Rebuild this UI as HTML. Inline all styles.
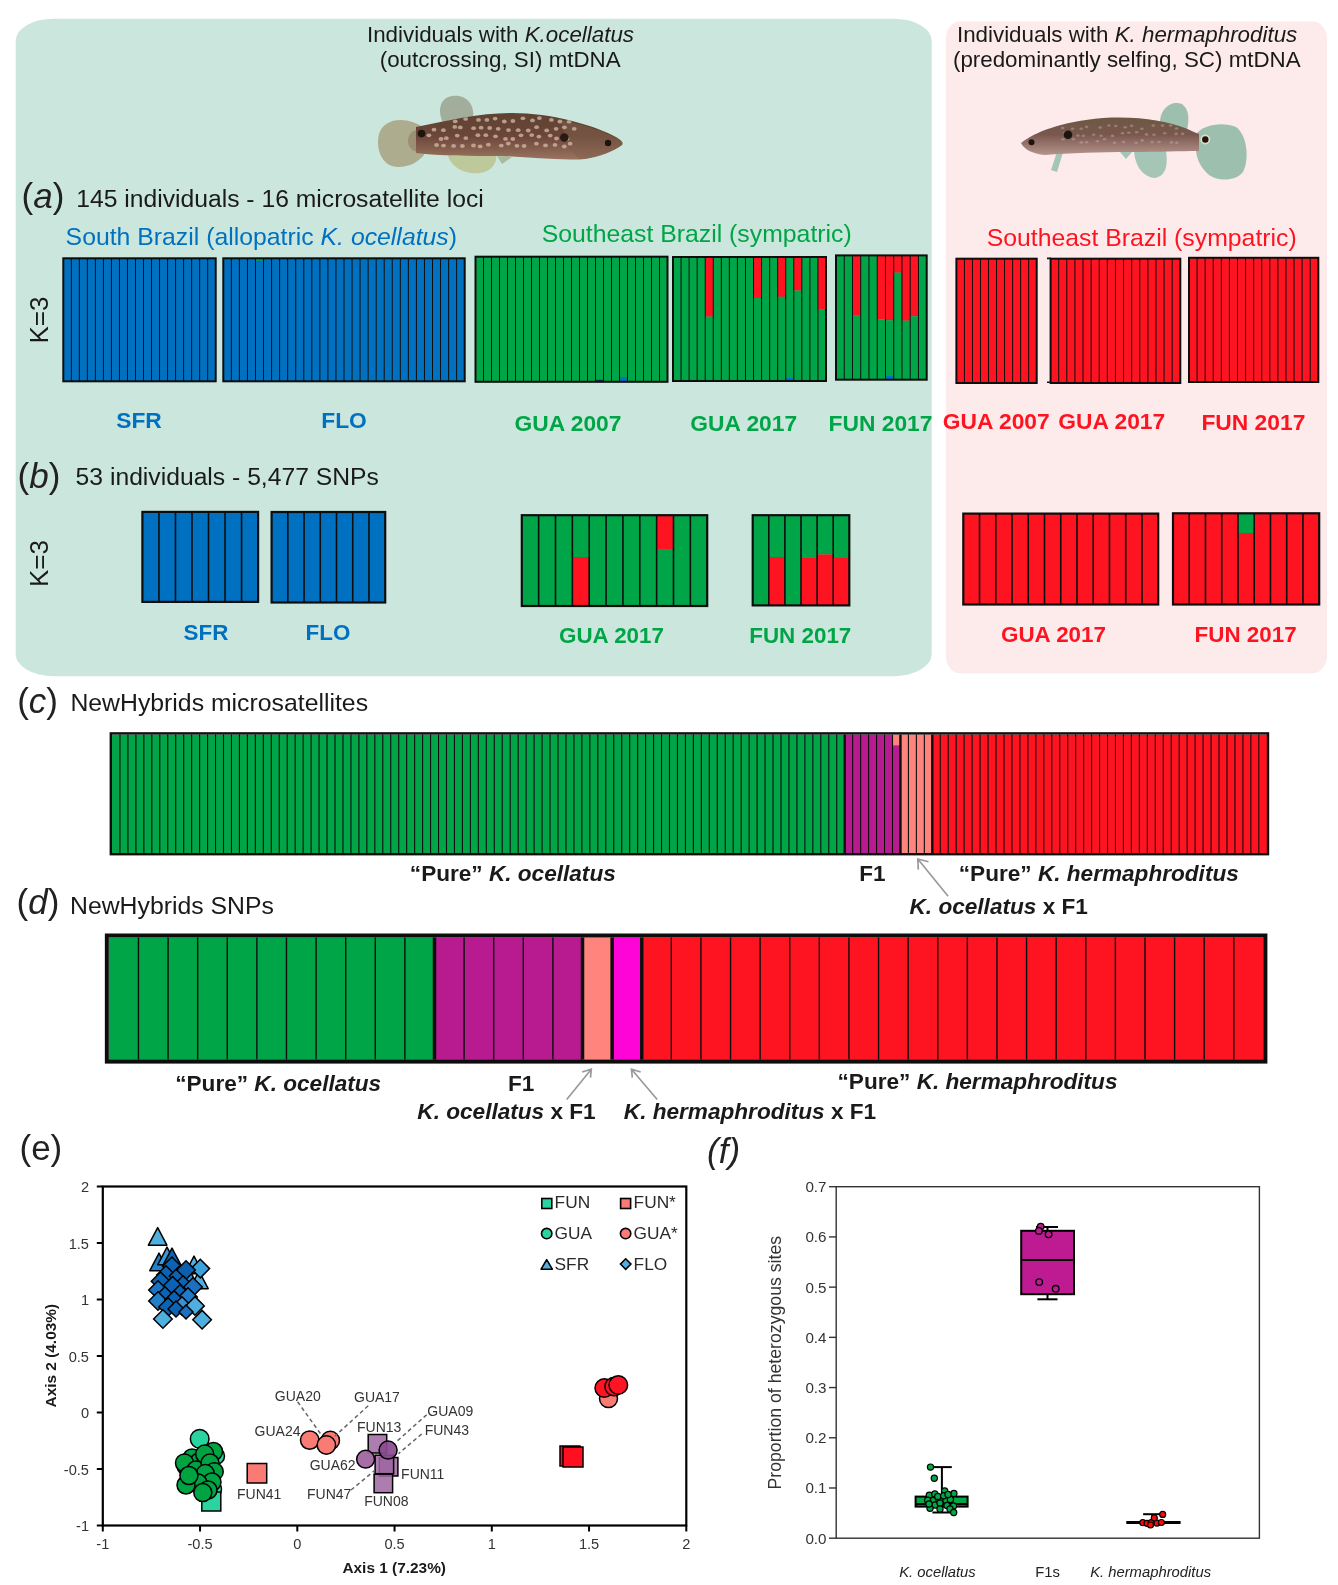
<!DOCTYPE html><html><head><meta charset="utf-8"><style>html,body{margin:0;padding:0;background:#fff}body{width:1338px;height:1585px;overflow:hidden}svg{display:block;will-change:transform}text{font-family:"Liberation Sans",sans-serif}</style></head><body>
<svg width="1338" height="1585" viewBox="0 0 1338 1585">
<rect x="15.7" y="18.7" width="916" height="657.5" rx="38" ry="22" fill="#cbe6dc"/>
<rect x="945.8" y="21.4" width="381.2" height="651.8" rx="14" ry="18" fill="#fdeaea"/>
<text x="500.5" y="42.3" font-size="22.35" fill="#1a1a1a" text-anchor="middle">Individuals with <tspan font-style="italic">K.ocellatus</tspan></text>
<text x="500.2" y="67.1" font-size="22.35" fill="#1a1a1a" text-anchor="middle">(outcrossing, SI) mtDNA</text>
<text x="1127.1" y="41.5" font-size="22.35" fill="#1a1a1a" text-anchor="middle">Individuals with <tspan font-style="italic">K. hermaphroditus</tspan></text>
<text x="1126.8" y="66.8" font-size="22.35" fill="#1a1a1a" text-anchor="middle">(predominantly selfing, SC) mtDNA</text>
<text x="21.5" y="207.5" font-size="35" fill="#222"><tspan>(</tspan><tspan font-style="italic">a</tspan><tspan>)</tspan></text>
<text x="76.2" y="206.8" font-size="24.7" fill="#1a1a1a">145 individuals - 16 microsatellite loci</text>
<text x="65.6" y="245.2" font-size="24.8" fill="#0071c1">South Brazil (allopatric <tspan font-style="italic">K. ocellatus</tspan>)</text>
<text x="696.7" y="242.2" font-size="24.8" fill="#00a547" text-anchor="middle">Southeast Brazil (sympatric)</text>
<text x="1141.7" y="246" font-size="24.8" fill="#fe1421" text-anchor="middle">Southeast Brazil (sympatric)</text>
<text transform="translate(47.6,320) rotate(-90)" font-size="26" fill="#1a1a1a" text-anchor="middle">K=3</text>
<text transform="translate(47.6,563.5) rotate(-90)" font-size="26" fill="#1a1a1a" text-anchor="middle">K=3</text>
<rect x="63.30" y="258.30" width="8.32" height="123.30" fill="#0071c1"/>
<rect x="71.32" y="258.30" width="8.32" height="123.30" fill="#0071c1"/>
<rect x="79.34" y="258.30" width="8.32" height="123.30" fill="#0071c1"/>
<rect x="87.36" y="258.30" width="8.32" height="123.30" fill="#0071c1"/>
<rect x="95.38" y="258.30" width="8.32" height="123.30" fill="#0071c1"/>
<rect x="103.41" y="258.30" width="8.32" height="123.30" fill="#0071c1"/>
<rect x="111.43" y="258.30" width="8.32" height="123.30" fill="#0071c1"/>
<rect x="119.45" y="258.30" width="8.32" height="123.30" fill="#0071c1"/>
<rect x="127.47" y="258.30" width="8.32" height="123.30" fill="#0071c1"/>
<rect x="135.49" y="258.30" width="8.32" height="123.30" fill="#0071c1"/>
<rect x="143.51" y="258.30" width="8.32" height="123.30" fill="#0071c1"/>
<rect x="151.53" y="258.30" width="8.32" height="123.30" fill="#0071c1"/>
<rect x="159.55" y="258.30" width="8.32" height="123.30" fill="#0071c1"/>
<rect x="167.57" y="258.30" width="8.32" height="123.30" fill="#0071c1"/>
<rect x="175.59" y="258.30" width="8.32" height="123.30" fill="#0071c1"/>
<rect x="183.62" y="258.30" width="8.32" height="123.30" fill="#0071c1"/>
<rect x="191.64" y="258.30" width="8.32" height="123.30" fill="#0071c1"/>
<rect x="199.66" y="258.30" width="8.32" height="123.30" fill="#0071c1"/>
<rect x="207.68" y="258.30" width="8.32" height="123.30" fill="#0071c1"/>
<line x1="71.32" y1="258.3" x2="71.32" y2="381.3" stroke="#0d0d0d" stroke-width="1.0"/>
<line x1="79.34" y1="258.3" x2="79.34" y2="381.3" stroke="#0d0d0d" stroke-width="1.0"/>
<line x1="87.36" y1="258.3" x2="87.36" y2="381.3" stroke="#0d0d0d" stroke-width="1.0"/>
<line x1="95.38" y1="258.3" x2="95.38" y2="381.3" stroke="#0d0d0d" stroke-width="1.0"/>
<line x1="103.41" y1="258.3" x2="103.41" y2="381.3" stroke="#0d0d0d" stroke-width="1.0"/>
<line x1="111.43" y1="258.3" x2="111.43" y2="381.3" stroke="#0d0d0d" stroke-width="1.0"/>
<line x1="119.45" y1="258.3" x2="119.45" y2="381.3" stroke="#0d0d0d" stroke-width="1.0"/>
<line x1="127.47" y1="258.3" x2="127.47" y2="381.3" stroke="#0d0d0d" stroke-width="1.0"/>
<line x1="135.49" y1="258.3" x2="135.49" y2="381.3" stroke="#0d0d0d" stroke-width="1.0"/>
<line x1="143.51" y1="258.3" x2="143.51" y2="381.3" stroke="#0d0d0d" stroke-width="1.0"/>
<line x1="151.53" y1="258.3" x2="151.53" y2="381.3" stroke="#0d0d0d" stroke-width="1.0"/>
<line x1="159.55" y1="258.3" x2="159.55" y2="381.3" stroke="#0d0d0d" stroke-width="1.0"/>
<line x1="167.57" y1="258.3" x2="167.57" y2="381.3" stroke="#0d0d0d" stroke-width="1.0"/>
<line x1="175.59" y1="258.3" x2="175.59" y2="381.3" stroke="#0d0d0d" stroke-width="1.0"/>
<line x1="183.62" y1="258.3" x2="183.62" y2="381.3" stroke="#0d0d0d" stroke-width="1.0"/>
<line x1="191.64" y1="258.3" x2="191.64" y2="381.3" stroke="#0d0d0d" stroke-width="1.0"/>
<line x1="199.66" y1="258.3" x2="199.66" y2="381.3" stroke="#0d0d0d" stroke-width="1.0"/>
<line x1="207.68" y1="258.3" x2="207.68" y2="381.3" stroke="#0d0d0d" stroke-width="1.0"/>
<rect x="63.3" y="258.3" width="152.40" height="123.00" fill="none" stroke="#0d0d0d" stroke-width="2.0"/>
<rect x="223.30" y="258.30" width="8.35" height="123.30" fill="#0071c1"/>
<rect x="231.35" y="258.30" width="8.35" height="123.30" fill="#0071c1"/>
<rect x="239.39" y="258.30" width="8.35" height="123.30" fill="#0071c1"/>
<rect x="247.44" y="258.30" width="8.35" height="123.30" fill="#0071c1"/>
<rect x="255.49" y="258.30" width="8.35" height="2.76" fill="#00a547"/>
<rect x="255.49" y="260.76" width="8.35" height="120.84" fill="#0071c1"/>
<rect x="263.53" y="258.30" width="8.35" height="123.30" fill="#0071c1"/>
<rect x="271.58" y="258.30" width="8.35" height="123.30" fill="#0071c1"/>
<rect x="279.63" y="258.30" width="8.35" height="123.30" fill="#0071c1"/>
<rect x="287.67" y="258.30" width="8.35" height="123.30" fill="#0071c1"/>
<rect x="295.72" y="258.30" width="8.35" height="123.30" fill="#0071c1"/>
<rect x="303.77" y="258.30" width="8.35" height="123.30" fill="#0071c1"/>
<rect x="311.81" y="258.30" width="8.35" height="123.30" fill="#0071c1"/>
<rect x="319.86" y="258.30" width="8.35" height="123.30" fill="#0071c1"/>
<rect x="327.91" y="258.30" width="8.35" height="123.30" fill="#0071c1"/>
<rect x="335.95" y="258.30" width="8.35" height="123.30" fill="#0071c1"/>
<rect x="344.00" y="258.30" width="8.35" height="123.30" fill="#0071c1"/>
<rect x="352.05" y="258.30" width="8.35" height="123.30" fill="#0071c1"/>
<rect x="360.09" y="258.30" width="8.35" height="123.30" fill="#0071c1"/>
<rect x="368.14" y="258.30" width="8.35" height="123.30" fill="#0071c1"/>
<rect x="376.19" y="258.30" width="8.35" height="123.30" fill="#0071c1"/>
<rect x="384.23" y="258.30" width="8.35" height="123.30" fill="#0071c1"/>
<rect x="392.28" y="258.30" width="8.35" height="123.30" fill="#0071c1"/>
<rect x="400.33" y="258.30" width="8.35" height="123.30" fill="#0071c1"/>
<rect x="408.37" y="258.30" width="8.35" height="123.30" fill="#0071c1"/>
<rect x="416.42" y="258.30" width="8.35" height="123.30" fill="#0071c1"/>
<rect x="424.47" y="258.30" width="8.35" height="123.30" fill="#0071c1"/>
<rect x="432.51" y="258.30" width="8.35" height="123.30" fill="#0071c1"/>
<rect x="440.56" y="258.30" width="8.35" height="123.30" fill="#0071c1"/>
<rect x="448.61" y="258.30" width="8.35" height="123.30" fill="#0071c1"/>
<rect x="456.65" y="258.30" width="8.35" height="123.30" fill="#0071c1"/>
<line x1="231.35" y1="258.3" x2="231.35" y2="381.3" stroke="#0d0d0d" stroke-width="1.0"/>
<line x1="239.39" y1="258.3" x2="239.39" y2="381.3" stroke="#0d0d0d" stroke-width="1.0"/>
<line x1="247.44" y1="258.3" x2="247.44" y2="381.3" stroke="#0d0d0d" stroke-width="1.0"/>
<line x1="255.49" y1="258.3" x2="255.49" y2="381.3" stroke="#0d0d0d" stroke-width="1.0"/>
<line x1="263.53" y1="258.3" x2="263.53" y2="381.3" stroke="#0d0d0d" stroke-width="1.0"/>
<line x1="271.58" y1="258.3" x2="271.58" y2="381.3" stroke="#0d0d0d" stroke-width="1.0"/>
<line x1="279.63" y1="258.3" x2="279.63" y2="381.3" stroke="#0d0d0d" stroke-width="1.0"/>
<line x1="287.67" y1="258.3" x2="287.67" y2="381.3" stroke="#0d0d0d" stroke-width="1.0"/>
<line x1="295.72" y1="258.3" x2="295.72" y2="381.3" stroke="#0d0d0d" stroke-width="1.0"/>
<line x1="303.77" y1="258.3" x2="303.77" y2="381.3" stroke="#0d0d0d" stroke-width="1.0"/>
<line x1="311.81" y1="258.3" x2="311.81" y2="381.3" stroke="#0d0d0d" stroke-width="1.0"/>
<line x1="319.86" y1="258.3" x2="319.86" y2="381.3" stroke="#0d0d0d" stroke-width="1.0"/>
<line x1="327.91" y1="258.3" x2="327.91" y2="381.3" stroke="#0d0d0d" stroke-width="1.0"/>
<line x1="335.95" y1="258.3" x2="335.95" y2="381.3" stroke="#0d0d0d" stroke-width="1.0"/>
<line x1="344.00" y1="258.3" x2="344.00" y2="381.3" stroke="#0d0d0d" stroke-width="1.0"/>
<line x1="352.05" y1="258.3" x2="352.05" y2="381.3" stroke="#0d0d0d" stroke-width="1.0"/>
<line x1="360.09" y1="258.3" x2="360.09" y2="381.3" stroke="#0d0d0d" stroke-width="1.0"/>
<line x1="368.14" y1="258.3" x2="368.14" y2="381.3" stroke="#0d0d0d" stroke-width="1.0"/>
<line x1="376.19" y1="258.3" x2="376.19" y2="381.3" stroke="#0d0d0d" stroke-width="1.0"/>
<line x1="384.23" y1="258.3" x2="384.23" y2="381.3" stroke="#0d0d0d" stroke-width="1.0"/>
<line x1="392.28" y1="258.3" x2="392.28" y2="381.3" stroke="#0d0d0d" stroke-width="1.0"/>
<line x1="400.33" y1="258.3" x2="400.33" y2="381.3" stroke="#0d0d0d" stroke-width="1.0"/>
<line x1="408.37" y1="258.3" x2="408.37" y2="381.3" stroke="#0d0d0d" stroke-width="1.0"/>
<line x1="416.42" y1="258.3" x2="416.42" y2="381.3" stroke="#0d0d0d" stroke-width="1.0"/>
<line x1="424.47" y1="258.3" x2="424.47" y2="381.3" stroke="#0d0d0d" stroke-width="1.0"/>
<line x1="432.51" y1="258.3" x2="432.51" y2="381.3" stroke="#0d0d0d" stroke-width="1.0"/>
<line x1="440.56" y1="258.3" x2="440.56" y2="381.3" stroke="#0d0d0d" stroke-width="1.0"/>
<line x1="448.61" y1="258.3" x2="448.61" y2="381.3" stroke="#0d0d0d" stroke-width="1.0"/>
<line x1="456.65" y1="258.3" x2="456.65" y2="381.3" stroke="#0d0d0d" stroke-width="1.0"/>
<rect x="223.3" y="258.3" width="241.40" height="123.00" fill="none" stroke="#0d0d0d" stroke-width="2.0"/>
<rect x="475.50" y="256.70" width="8.30" height="125.40" fill="#00a547"/>
<rect x="483.50" y="256.70" width="8.30" height="125.40" fill="#00a547"/>
<rect x="491.50" y="256.70" width="8.30" height="125.40" fill="#00a547"/>
<rect x="499.50" y="256.70" width="8.30" height="125.40" fill="#00a547"/>
<rect x="507.50" y="256.70" width="8.30" height="125.40" fill="#00a547"/>
<rect x="515.50" y="256.70" width="8.30" height="125.40" fill="#00a547"/>
<rect x="523.50" y="256.70" width="8.30" height="125.40" fill="#00a547"/>
<rect x="531.50" y="256.70" width="8.30" height="125.40" fill="#00a547"/>
<rect x="539.50" y="256.70" width="8.30" height="125.40" fill="#00a547"/>
<rect x="547.50" y="256.70" width="8.30" height="125.40" fill="#00a547"/>
<rect x="555.50" y="256.70" width="8.30" height="125.40" fill="#00a547"/>
<rect x="563.50" y="256.70" width="8.30" height="125.40" fill="#00a547"/>
<rect x="571.50" y="256.70" width="8.30" height="125.40" fill="#00a547"/>
<rect x="579.50" y="256.70" width="8.30" height="125.40" fill="#00a547"/>
<rect x="587.50" y="256.70" width="8.30" height="125.40" fill="#00a547"/>
<rect x="595.50" y="256.70" width="8.30" height="123.40" fill="#00a547"/>
<rect x="595.50" y="379.80" width="8.30" height="2.30" fill="#0a2a50"/>
<rect x="603.50" y="256.70" width="8.30" height="125.40" fill="#00a547"/>
<rect x="611.50" y="256.70" width="8.30" height="125.40" fill="#00a547"/>
<rect x="619.50" y="256.70" width="8.30" height="120.65" fill="#00a547"/>
<rect x="619.50" y="377.05" width="8.30" height="5.05" fill="#0071c1"/>
<rect x="627.50" y="256.70" width="8.30" height="125.40" fill="#00a547"/>
<rect x="635.50" y="256.70" width="8.30" height="125.40" fill="#00a547"/>
<rect x="643.50" y="256.70" width="8.30" height="125.40" fill="#00a547"/>
<rect x="651.50" y="256.70" width="8.30" height="125.40" fill="#00a547"/>
<rect x="659.50" y="256.70" width="8.30" height="125.40" fill="#00a547"/>
<line x1="483.50" y1="256.7" x2="483.50" y2="381.8" stroke="#0d0d0d" stroke-width="1.0"/>
<line x1="491.50" y1="256.7" x2="491.50" y2="381.8" stroke="#0d0d0d" stroke-width="1.0"/>
<line x1="499.50" y1="256.7" x2="499.50" y2="381.8" stroke="#0d0d0d" stroke-width="1.0"/>
<line x1="507.50" y1="256.7" x2="507.50" y2="381.8" stroke="#0d0d0d" stroke-width="1.0"/>
<line x1="515.50" y1="256.7" x2="515.50" y2="381.8" stroke="#0d0d0d" stroke-width="1.0"/>
<line x1="523.50" y1="256.7" x2="523.50" y2="381.8" stroke="#0d0d0d" stroke-width="1.0"/>
<line x1="531.50" y1="256.7" x2="531.50" y2="381.8" stroke="#0d0d0d" stroke-width="1.0"/>
<line x1="539.50" y1="256.7" x2="539.50" y2="381.8" stroke="#0d0d0d" stroke-width="1.0"/>
<line x1="547.50" y1="256.7" x2="547.50" y2="381.8" stroke="#0d0d0d" stroke-width="1.0"/>
<line x1="555.50" y1="256.7" x2="555.50" y2="381.8" stroke="#0d0d0d" stroke-width="1.0"/>
<line x1="563.50" y1="256.7" x2="563.50" y2="381.8" stroke="#0d0d0d" stroke-width="1.0"/>
<line x1="571.50" y1="256.7" x2="571.50" y2="381.8" stroke="#0d0d0d" stroke-width="1.0"/>
<line x1="579.50" y1="256.7" x2="579.50" y2="381.8" stroke="#0d0d0d" stroke-width="1.0"/>
<line x1="587.50" y1="256.7" x2="587.50" y2="381.8" stroke="#0d0d0d" stroke-width="1.0"/>
<line x1="595.50" y1="256.7" x2="595.50" y2="381.8" stroke="#0d0d0d" stroke-width="1.0"/>
<line x1="603.50" y1="256.7" x2="603.50" y2="381.8" stroke="#0d0d0d" stroke-width="1.0"/>
<line x1="611.50" y1="256.7" x2="611.50" y2="381.8" stroke="#0d0d0d" stroke-width="1.0"/>
<line x1="619.50" y1="256.7" x2="619.50" y2="381.8" stroke="#0d0d0d" stroke-width="1.0"/>
<line x1="627.50" y1="256.7" x2="627.50" y2="381.8" stroke="#0d0d0d" stroke-width="1.0"/>
<line x1="635.50" y1="256.7" x2="635.50" y2="381.8" stroke="#0d0d0d" stroke-width="1.0"/>
<line x1="643.50" y1="256.7" x2="643.50" y2="381.8" stroke="#0d0d0d" stroke-width="1.0"/>
<line x1="651.50" y1="256.7" x2="651.50" y2="381.8" stroke="#0d0d0d" stroke-width="1.0"/>
<line x1="659.50" y1="256.7" x2="659.50" y2="381.8" stroke="#0d0d0d" stroke-width="1.0"/>
<rect x="475.5" y="256.7" width="192.00" height="125.10" fill="none" stroke="#0d0d0d" stroke-width="2.0"/>
<rect x="673.00" y="257.00" width="8.35" height="124.30" fill="#00a547"/>
<rect x="681.05" y="257.00" width="8.35" height="124.30" fill="#00a547"/>
<rect x="689.11" y="257.00" width="8.35" height="124.30" fill="#00a547"/>
<rect x="697.16" y="257.00" width="8.35" height="124.30" fill="#00a547"/>
<rect x="705.21" y="257.00" width="8.35" height="59.82" fill="#fe1421"/>
<rect x="705.21" y="316.52" width="8.35" height="64.78" fill="#00a547"/>
<rect x="713.26" y="257.00" width="8.35" height="124.30" fill="#00a547"/>
<rect x="721.32" y="257.00" width="8.35" height="124.30" fill="#00a547"/>
<rect x="729.37" y="257.00" width="8.35" height="124.30" fill="#00a547"/>
<rect x="737.42" y="257.00" width="8.35" height="124.30" fill="#00a547"/>
<rect x="745.47" y="257.00" width="8.35" height="124.30" fill="#00a547"/>
<rect x="753.53" y="257.00" width="8.35" height="41.22" fill="#fe1421"/>
<rect x="753.53" y="297.92" width="8.35" height="83.38" fill="#00a547"/>
<rect x="761.58" y="257.00" width="8.35" height="124.30" fill="#00a547"/>
<rect x="769.63" y="257.00" width="8.35" height="124.30" fill="#00a547"/>
<rect x="777.68" y="257.00" width="8.35" height="39.98" fill="#fe1421"/>
<rect x="777.68" y="296.68" width="8.35" height="84.62" fill="#00a547"/>
<rect x="785.74" y="257.00" width="8.35" height="120.58" fill="#00a547"/>
<rect x="785.74" y="377.28" width="8.35" height="4.02" fill="#0071c1"/>
<rect x="793.79" y="257.00" width="8.35" height="33.78" fill="#fe1421"/>
<rect x="793.79" y="290.48" width="8.35" height="90.82" fill="#00a547"/>
<rect x="801.84" y="257.00" width="8.35" height="124.30" fill="#00a547"/>
<rect x="809.89" y="257.00" width="8.35" height="124.30" fill="#00a547"/>
<rect x="817.95" y="257.00" width="8.35" height="52.38" fill="#fe1421"/>
<rect x="817.95" y="309.08" width="8.35" height="72.22" fill="#00a547"/>
<line x1="681.05" y1="257" x2="681.05" y2="381" stroke="#0d0d0d" stroke-width="1.0"/>
<line x1="689.11" y1="257" x2="689.11" y2="381" stroke="#0d0d0d" stroke-width="1.0"/>
<line x1="697.16" y1="257" x2="697.16" y2="381" stroke="#0d0d0d" stroke-width="1.0"/>
<line x1="705.21" y1="257" x2="705.21" y2="381" stroke="#0d0d0d" stroke-width="1.0"/>
<line x1="713.26" y1="257" x2="713.26" y2="381" stroke="#0d0d0d" stroke-width="1.0"/>
<line x1="721.32" y1="257" x2="721.32" y2="381" stroke="#0d0d0d" stroke-width="1.0"/>
<line x1="729.37" y1="257" x2="729.37" y2="381" stroke="#0d0d0d" stroke-width="1.0"/>
<line x1="737.42" y1="257" x2="737.42" y2="381" stroke="#0d0d0d" stroke-width="1.0"/>
<line x1="745.47" y1="257" x2="745.47" y2="381" stroke="#0d0d0d" stroke-width="1.0"/>
<line x1="753.53" y1="257" x2="753.53" y2="381" stroke="#0d0d0d" stroke-width="1.0"/>
<line x1="761.58" y1="257" x2="761.58" y2="381" stroke="#0d0d0d" stroke-width="1.0"/>
<line x1="769.63" y1="257" x2="769.63" y2="381" stroke="#0d0d0d" stroke-width="1.0"/>
<line x1="777.68" y1="257" x2="777.68" y2="381" stroke="#0d0d0d" stroke-width="1.0"/>
<line x1="785.74" y1="257" x2="785.74" y2="381" stroke="#0d0d0d" stroke-width="1.0"/>
<line x1="793.79" y1="257" x2="793.79" y2="381" stroke="#0d0d0d" stroke-width="1.0"/>
<line x1="801.84" y1="257" x2="801.84" y2="381" stroke="#0d0d0d" stroke-width="1.0"/>
<line x1="809.89" y1="257" x2="809.89" y2="381" stroke="#0d0d0d" stroke-width="1.0"/>
<line x1="817.95" y1="257" x2="817.95" y2="381" stroke="#0d0d0d" stroke-width="1.0"/>
<rect x="673" y="257" width="153.00" height="124.00" fill="none" stroke="#0d0d0d" stroke-width="2.0"/>
<rect x="836.00" y="255.40" width="8.55" height="124.60" fill="#00a547"/>
<rect x="844.25" y="255.40" width="8.55" height="124.60" fill="#00a547"/>
<rect x="852.49" y="255.40" width="8.55" height="59.90" fill="#fe1421"/>
<rect x="852.49" y="315.00" width="8.55" height="65.00" fill="#00a547"/>
<rect x="860.74" y="255.40" width="8.55" height="124.60" fill="#00a547"/>
<rect x="868.98" y="255.40" width="8.55" height="124.60" fill="#00a547"/>
<rect x="877.23" y="255.40" width="8.55" height="64.10" fill="#fe1421"/>
<rect x="877.23" y="319.20" width="8.55" height="60.80" fill="#00a547"/>
<rect x="885.47" y="255.40" width="8.55" height="65.10" fill="#fe1421"/>
<rect x="885.47" y="320.20" width="8.55" height="56.07" fill="#00a547"/>
<rect x="885.47" y="375.97" width="8.55" height="4.03" fill="#0071c1"/>
<rect x="893.72" y="255.40" width="8.55" height="17.50" fill="#fe1421"/>
<rect x="893.72" y="272.60" width="8.55" height="107.40" fill="#00a547"/>
<rect x="901.96" y="255.40" width="8.55" height="65.50" fill="#fe1421"/>
<rect x="901.96" y="320.60" width="8.55" height="59.40" fill="#00a547"/>
<rect x="910.21" y="255.40" width="8.55" height="61.10" fill="#fe1421"/>
<rect x="910.21" y="316.20" width="8.55" height="63.80" fill="#00a547"/>
<rect x="918.45" y="255.40" width="8.55" height="124.60" fill="#00a547"/>
<line x1="844.25" y1="255.4" x2="844.25" y2="379.7" stroke="#0d0d0d" stroke-width="1.0"/>
<line x1="852.49" y1="255.4" x2="852.49" y2="379.7" stroke="#0d0d0d" stroke-width="1.0"/>
<line x1="860.74" y1="255.4" x2="860.74" y2="379.7" stroke="#0d0d0d" stroke-width="1.0"/>
<line x1="868.98" y1="255.4" x2="868.98" y2="379.7" stroke="#0d0d0d" stroke-width="1.0"/>
<line x1="877.23" y1="255.4" x2="877.23" y2="379.7" stroke="#0d0d0d" stroke-width="1.0"/>
<line x1="885.47" y1="255.4" x2="885.47" y2="379.7" stroke="#0d0d0d" stroke-width="1.0"/>
<line x1="893.72" y1="255.4" x2="893.72" y2="379.7" stroke="#0d0d0d" stroke-width="1.0"/>
<line x1="901.96" y1="255.4" x2="901.96" y2="379.7" stroke="#0d0d0d" stroke-width="1.0"/>
<line x1="910.21" y1="255.4" x2="910.21" y2="379.7" stroke="#0d0d0d" stroke-width="1.0"/>
<line x1="918.45" y1="255.4" x2="918.45" y2="379.7" stroke="#0d0d0d" stroke-width="1.0"/>
<rect x="836" y="255.4" width="90.70" height="124.30" fill="none" stroke="#0d0d0d" stroke-width="2.0"/>
<rect x="956.40" y="258.70" width="8.33" height="124.60" fill="#fe1421"/>
<rect x="964.43" y="258.70" width="8.33" height="124.60" fill="#fe1421"/>
<rect x="972.46" y="258.70" width="8.33" height="124.60" fill="#fe1421"/>
<rect x="980.49" y="258.70" width="8.33" height="124.60" fill="#fe1421"/>
<rect x="988.52" y="258.70" width="8.33" height="124.60" fill="#fe1421"/>
<rect x="996.55" y="258.70" width="8.33" height="124.60" fill="#fe1421"/>
<rect x="1004.58" y="258.70" width="8.33" height="124.60" fill="#fe1421"/>
<rect x="1012.61" y="258.70" width="8.33" height="124.60" fill="#fe1421"/>
<rect x="1020.64" y="258.70" width="8.33" height="124.60" fill="#fe1421"/>
<rect x="1028.67" y="258.70" width="8.33" height="124.60" fill="#fe1421"/>
<line x1="964.43" y1="258.7" x2="964.43" y2="383" stroke="#0d0d0d" stroke-width="1.0"/>
<line x1="972.46" y1="258.7" x2="972.46" y2="383" stroke="#0d0d0d" stroke-width="1.0"/>
<line x1="980.49" y1="258.7" x2="980.49" y2="383" stroke="#0d0d0d" stroke-width="1.0"/>
<line x1="988.52" y1="258.7" x2="988.52" y2="383" stroke="#0d0d0d" stroke-width="1.0"/>
<line x1="996.55" y1="258.7" x2="996.55" y2="383" stroke="#0d0d0d" stroke-width="1.0"/>
<line x1="1004.58" y1="258.7" x2="1004.58" y2="383" stroke="#0d0d0d" stroke-width="1.0"/>
<line x1="1012.61" y1="258.7" x2="1012.61" y2="383" stroke="#0d0d0d" stroke-width="1.0"/>
<line x1="1020.64" y1="258.7" x2="1020.64" y2="383" stroke="#0d0d0d" stroke-width="1.0"/>
<line x1="1028.67" y1="258.7" x2="1028.67" y2="383" stroke="#0d0d0d" stroke-width="1.0"/>
<rect x="956.4" y="258.7" width="80.30" height="124.30" fill="none" stroke="#0d0d0d" stroke-width="2.0"/>
<rect x="1050.60" y="258.70" width="8.41" height="124.60" fill="#fe1421"/>
<rect x="1058.71" y="258.70" width="8.41" height="124.60" fill="#fe1421"/>
<rect x="1066.81" y="258.70" width="8.41" height="124.60" fill="#fe1421"/>
<rect x="1074.92" y="258.70" width="8.41" height="124.60" fill="#fe1421"/>
<rect x="1083.02" y="258.70" width="8.41" height="124.60" fill="#fe1421"/>
<rect x="1091.13" y="258.70" width="8.41" height="124.60" fill="#fe1421"/>
<rect x="1099.24" y="258.70" width="8.41" height="124.60" fill="#fe1421"/>
<rect x="1107.34" y="258.70" width="8.41" height="124.60" fill="#fe1421"/>
<rect x="1115.45" y="258.70" width="8.41" height="124.60" fill="#fe1421"/>
<rect x="1123.56" y="258.70" width="8.41" height="124.60" fill="#fe1421"/>
<rect x="1131.66" y="258.70" width="8.41" height="124.60" fill="#fe1421"/>
<rect x="1139.77" y="258.70" width="8.41" height="124.60" fill="#fe1421"/>
<rect x="1147.88" y="258.70" width="8.41" height="124.60" fill="#fe1421"/>
<rect x="1155.98" y="258.70" width="8.41" height="124.60" fill="#fe1421"/>
<rect x="1164.09" y="258.70" width="8.41" height="124.60" fill="#fe1421"/>
<rect x="1172.19" y="258.70" width="8.41" height="124.60" fill="#fe1421"/>
<line x1="1058.71" y1="258.7" x2="1058.71" y2="383" stroke="#0d0d0d" stroke-width="1.0"/>
<line x1="1066.81" y1="258.7" x2="1066.81" y2="383" stroke="#0d0d0d" stroke-width="1.0"/>
<line x1="1074.92" y1="258.7" x2="1074.92" y2="383" stroke="#0d0d0d" stroke-width="1.0"/>
<line x1="1083.02" y1="258.7" x2="1083.02" y2="383" stroke="#0d0d0d" stroke-width="1.0"/>
<line x1="1091.13" y1="258.7" x2="1091.13" y2="383" stroke="#0d0d0d" stroke-width="1.0"/>
<line x1="1099.24" y1="258.7" x2="1099.24" y2="383" stroke="#0d0d0d" stroke-width="1.0"/>
<line x1="1107.34" y1="258.7" x2="1107.34" y2="383" stroke="#0d0d0d" stroke-width="1.0"/>
<line x1="1115.45" y1="258.7" x2="1115.45" y2="383" stroke="#0d0d0d" stroke-width="1.0"/>
<line x1="1123.56" y1="258.7" x2="1123.56" y2="383" stroke="#0d0d0d" stroke-width="1.0"/>
<line x1="1131.66" y1="258.7" x2="1131.66" y2="383" stroke="#0d0d0d" stroke-width="1.0"/>
<line x1="1139.77" y1="258.7" x2="1139.77" y2="383" stroke="#0d0d0d" stroke-width="1.0"/>
<line x1="1147.88" y1="258.7" x2="1147.88" y2="383" stroke="#0d0d0d" stroke-width="1.0"/>
<line x1="1155.98" y1="258.7" x2="1155.98" y2="383" stroke="#0d0d0d" stroke-width="1.0"/>
<line x1="1164.09" y1="258.7" x2="1164.09" y2="383" stroke="#0d0d0d" stroke-width="1.0"/>
<line x1="1172.19" y1="258.7" x2="1172.19" y2="383" stroke="#0d0d0d" stroke-width="1.0"/>
<rect x="1050.6" y="258.7" width="129.70" height="124.30" fill="none" stroke="#0d0d0d" stroke-width="2.0"/>
<path d="M1047,258.4 H1051 M1047,382.2 H1051" stroke="#111" stroke-width="1.6"/>
<rect x="1189.00" y="257.80" width="8.38" height="124.50" fill="#fe1421"/>
<rect x="1197.08" y="257.80" width="8.38" height="124.50" fill="#fe1421"/>
<rect x="1205.16" y="257.80" width="8.38" height="124.50" fill="#fe1421"/>
<rect x="1213.24" y="257.80" width="8.38" height="124.50" fill="#fe1421"/>
<rect x="1221.33" y="257.80" width="8.38" height="124.50" fill="#fe1421"/>
<rect x="1229.41" y="257.80" width="8.38" height="124.50" fill="#fe1421"/>
<rect x="1237.49" y="257.80" width="8.38" height="124.50" fill="#fe1421"/>
<rect x="1245.57" y="257.80" width="8.38" height="124.50" fill="#fe1421"/>
<rect x="1253.65" y="257.80" width="8.38" height="124.50" fill="#fe1421"/>
<rect x="1261.73" y="257.80" width="8.38" height="124.50" fill="#fe1421"/>
<rect x="1269.81" y="257.80" width="8.38" height="124.50" fill="#fe1421"/>
<rect x="1277.89" y="257.80" width="8.38" height="124.50" fill="#fe1421"/>
<rect x="1285.97" y="257.80" width="8.38" height="124.50" fill="#fe1421"/>
<rect x="1294.06" y="257.80" width="8.38" height="124.50" fill="#fe1421"/>
<rect x="1302.14" y="257.80" width="8.38" height="124.50" fill="#fe1421"/>
<rect x="1310.22" y="257.80" width="8.38" height="124.50" fill="#fe1421"/>
<line x1="1197.08" y1="257.8" x2="1197.08" y2="382" stroke="#0d0d0d" stroke-width="1.0"/>
<line x1="1205.16" y1="257.8" x2="1205.16" y2="382" stroke="#0d0d0d" stroke-width="1.0"/>
<line x1="1213.24" y1="257.8" x2="1213.24" y2="382" stroke="#0d0d0d" stroke-width="1.0"/>
<line x1="1221.33" y1="257.8" x2="1221.33" y2="382" stroke="#0d0d0d" stroke-width="1.0"/>
<line x1="1229.41" y1="257.8" x2="1229.41" y2="382" stroke="#0d0d0d" stroke-width="1.0"/>
<line x1="1237.49" y1="257.8" x2="1237.49" y2="382" stroke="#0d0d0d" stroke-width="1.0"/>
<line x1="1245.57" y1="257.8" x2="1245.57" y2="382" stroke="#0d0d0d" stroke-width="1.0"/>
<line x1="1253.65" y1="257.8" x2="1253.65" y2="382" stroke="#0d0d0d" stroke-width="1.0"/>
<line x1="1261.73" y1="257.8" x2="1261.73" y2="382" stroke="#0d0d0d" stroke-width="1.0"/>
<line x1="1269.81" y1="257.8" x2="1269.81" y2="382" stroke="#0d0d0d" stroke-width="1.0"/>
<line x1="1277.89" y1="257.8" x2="1277.89" y2="382" stroke="#0d0d0d" stroke-width="1.0"/>
<line x1="1285.97" y1="257.8" x2="1285.97" y2="382" stroke="#0d0d0d" stroke-width="1.0"/>
<line x1="1294.06" y1="257.8" x2="1294.06" y2="382" stroke="#0d0d0d" stroke-width="1.0"/>
<line x1="1302.14" y1="257.8" x2="1302.14" y2="382" stroke="#0d0d0d" stroke-width="1.0"/>
<line x1="1310.22" y1="257.8" x2="1310.22" y2="382" stroke="#0d0d0d" stroke-width="1.0"/>
<rect x="1189" y="257.8" width="129.30" height="124.20" fill="none" stroke="#0d0d0d" stroke-width="2.0"/>
<text x="139" y="428.3" font-size="22.8" fill="#0071c1" text-anchor="middle" font-weight="bold">SFR</text>
<text x="344" y="428.3" font-size="22.8" fill="#0071c1" text-anchor="middle" font-weight="bold">FLO</text>
<text x="568" y="431" font-size="22.8" fill="#00a547" text-anchor="middle" font-weight="bold">GUA 2007</text>
<text x="743.7" y="431" font-size="22.8" fill="#00a547" text-anchor="middle" font-weight="bold">GUA 2017</text>
<text x="880.5" y="431" font-size="22.8" fill="#00a547" text-anchor="middle" font-weight="bold">FUN 2017</text>
<text x="996.3" y="429.3" font-size="22.8" fill="#fe1421" text-anchor="middle" font-weight="bold">GUA 2007</text>
<text x="1111.8" y="429.3" font-size="22.8" fill="#fe1421" text-anchor="middle" font-weight="bold">GUA 2017</text>
<text x="1253.4" y="430" font-size="22.8" fill="#fe1421" text-anchor="middle" font-weight="bold">FUN 2017</text>
<text x="17.5" y="487.5" font-size="35" fill="#222"><tspan>(</tspan><tspan font-style="italic">b</tspan><tspan>)</tspan></text>
<text x="75.6" y="484.8" font-size="24.7" fill="#1a1a1a">53 individuals - 5,477 SNPs</text>
<rect x="142.40" y="511.90" width="16.83" height="90.30" fill="#0071c1"/>
<rect x="158.93" y="511.90" width="16.83" height="90.30" fill="#0071c1"/>
<rect x="175.46" y="511.90" width="16.83" height="90.30" fill="#0071c1"/>
<rect x="191.99" y="511.90" width="16.83" height="90.30" fill="#0071c1"/>
<rect x="208.51" y="511.90" width="16.83" height="90.30" fill="#0071c1"/>
<rect x="225.04" y="511.90" width="16.83" height="90.30" fill="#0071c1"/>
<rect x="241.57" y="511.90" width="16.83" height="90.30" fill="#0071c1"/>
<line x1="158.93" y1="511.9" x2="158.93" y2="601.9" stroke="#0d0d0d" stroke-width="1.6"/>
<line x1="175.46" y1="511.9" x2="175.46" y2="601.9" stroke="#0d0d0d" stroke-width="1.6"/>
<line x1="191.99" y1="511.9" x2="191.99" y2="601.9" stroke="#0d0d0d" stroke-width="1.6"/>
<line x1="208.51" y1="511.9" x2="208.51" y2="601.9" stroke="#0d0d0d" stroke-width="1.6"/>
<line x1="225.04" y1="511.9" x2="225.04" y2="601.9" stroke="#0d0d0d" stroke-width="1.6"/>
<line x1="241.57" y1="511.9" x2="241.57" y2="601.9" stroke="#0d0d0d" stroke-width="1.6"/>
<rect x="142.4" y="511.9" width="115.70" height="90.00" fill="none" stroke="#0d0d0d" stroke-width="2.2"/>
<rect x="271.60" y="512.00" width="16.53" height="90.80" fill="#0071c1"/>
<rect x="287.83" y="512.00" width="16.53" height="90.80" fill="#0071c1"/>
<rect x="304.06" y="512.00" width="16.53" height="90.80" fill="#0071c1"/>
<rect x="320.29" y="512.00" width="16.53" height="90.80" fill="#0071c1"/>
<rect x="336.51" y="512.00" width="16.53" height="90.80" fill="#0071c1"/>
<rect x="352.74" y="512.00" width="16.53" height="90.80" fill="#0071c1"/>
<rect x="368.97" y="512.00" width="16.53" height="90.80" fill="#0071c1"/>
<line x1="287.83" y1="512" x2="287.83" y2="602.5" stroke="#0d0d0d" stroke-width="1.6"/>
<line x1="304.06" y1="512" x2="304.06" y2="602.5" stroke="#0d0d0d" stroke-width="1.6"/>
<line x1="320.29" y1="512" x2="320.29" y2="602.5" stroke="#0d0d0d" stroke-width="1.6"/>
<line x1="336.51" y1="512" x2="336.51" y2="602.5" stroke="#0d0d0d" stroke-width="1.6"/>
<line x1="352.74" y1="512" x2="352.74" y2="602.5" stroke="#0d0d0d" stroke-width="1.6"/>
<line x1="368.97" y1="512" x2="368.97" y2="602.5" stroke="#0d0d0d" stroke-width="1.6"/>
<rect x="271.6" y="512" width="113.60" height="90.50" fill="none" stroke="#0d0d0d" stroke-width="2.2"/>
<rect x="521.80" y="515.20" width="17.15" height="91.10" fill="#00a547"/>
<rect x="538.65" y="515.20" width="17.15" height="91.10" fill="#00a547"/>
<rect x="555.51" y="515.20" width="17.15" height="91.10" fill="#00a547"/>
<rect x="572.36" y="515.20" width="17.15" height="42.10" fill="#00a547"/>
<rect x="572.36" y="557.00" width="17.15" height="49.30" fill="#fe1421"/>
<rect x="589.22" y="515.20" width="17.15" height="91.10" fill="#00a547"/>
<rect x="606.07" y="515.20" width="17.15" height="91.10" fill="#00a547"/>
<rect x="622.93" y="515.20" width="17.15" height="91.10" fill="#00a547"/>
<rect x="639.78" y="515.20" width="17.15" height="91.10" fill="#00a547"/>
<rect x="656.64" y="515.20" width="17.15" height="34.10" fill="#fe1421"/>
<rect x="656.64" y="549.00" width="17.15" height="57.30" fill="#00a547"/>
<rect x="673.49" y="515.20" width="17.15" height="91.10" fill="#00a547"/>
<rect x="690.35" y="515.20" width="17.15" height="91.10" fill="#00a547"/>
<line x1="538.65" y1="515.2" x2="538.65" y2="606" stroke="#0d0d0d" stroke-width="1.6"/>
<line x1="555.51" y1="515.2" x2="555.51" y2="606" stroke="#0d0d0d" stroke-width="1.6"/>
<line x1="572.36" y1="515.2" x2="572.36" y2="606" stroke="#0d0d0d" stroke-width="1.6"/>
<line x1="589.22" y1="515.2" x2="589.22" y2="606" stroke="#0d0d0d" stroke-width="1.6"/>
<line x1="606.07" y1="515.2" x2="606.07" y2="606" stroke="#0d0d0d" stroke-width="1.6"/>
<line x1="622.93" y1="515.2" x2="622.93" y2="606" stroke="#0d0d0d" stroke-width="1.6"/>
<line x1="639.78" y1="515.2" x2="639.78" y2="606" stroke="#0d0d0d" stroke-width="1.6"/>
<line x1="656.64" y1="515.2" x2="656.64" y2="606" stroke="#0d0d0d" stroke-width="1.6"/>
<line x1="673.49" y1="515.2" x2="673.49" y2="606" stroke="#0d0d0d" stroke-width="1.6"/>
<line x1="690.35" y1="515.2" x2="690.35" y2="606" stroke="#0d0d0d" stroke-width="1.6"/>
<rect x="521.8" y="515.2" width="185.40" height="90.80" fill="none" stroke="#0d0d0d" stroke-width="2.2"/>
<rect x="752.70" y="515.20" width="16.40" height="90.50" fill="#00a547"/>
<rect x="768.80" y="515.20" width="16.40" height="42.10" fill="#00a547"/>
<rect x="768.80" y="557.00" width="16.40" height="48.70" fill="#fe1421"/>
<rect x="784.90" y="515.20" width="16.40" height="90.50" fill="#00a547"/>
<rect x="801.00" y="515.20" width="16.40" height="42.60" fill="#00a547"/>
<rect x="801.00" y="557.50" width="16.40" height="48.20" fill="#fe1421"/>
<rect x="817.10" y="515.20" width="16.40" height="39.50" fill="#00a547"/>
<rect x="817.10" y="554.40" width="16.40" height="51.30" fill="#fe1421"/>
<rect x="833.20" y="515.20" width="16.40" height="43.10" fill="#00a547"/>
<rect x="833.20" y="558.00" width="16.40" height="47.70" fill="#fe1421"/>
<line x1="768.80" y1="515.2" x2="768.80" y2="605.4" stroke="#0d0d0d" stroke-width="1.6"/>
<line x1="784.90" y1="515.2" x2="784.90" y2="605.4" stroke="#0d0d0d" stroke-width="1.6"/>
<line x1="801.00" y1="515.2" x2="801.00" y2="605.4" stroke="#0d0d0d" stroke-width="1.6"/>
<line x1="817.10" y1="515.2" x2="817.10" y2="605.4" stroke="#0d0d0d" stroke-width="1.6"/>
<line x1="833.20" y1="515.2" x2="833.20" y2="605.4" stroke="#0d0d0d" stroke-width="1.6"/>
<rect x="752.7" y="515.2" width="96.60" height="90.20" fill="none" stroke="#0d0d0d" stroke-width="2.2"/>
<rect x="963.30" y="513.60" width="16.54" height="91.20" fill="#fe1421"/>
<rect x="979.54" y="513.60" width="16.54" height="91.20" fill="#fe1421"/>
<rect x="995.78" y="513.60" width="16.54" height="91.20" fill="#fe1421"/>
<rect x="1012.02" y="513.60" width="16.54" height="91.20" fill="#fe1421"/>
<rect x="1028.27" y="513.60" width="16.54" height="91.20" fill="#fe1421"/>
<rect x="1044.51" y="513.60" width="16.54" height="91.20" fill="#fe1421"/>
<rect x="1060.75" y="513.60" width="16.54" height="91.20" fill="#fe1421"/>
<rect x="1076.99" y="513.60" width="16.54" height="91.20" fill="#fe1421"/>
<rect x="1093.23" y="513.60" width="16.54" height="91.20" fill="#fe1421"/>
<rect x="1109.47" y="513.60" width="16.54" height="91.20" fill="#fe1421"/>
<rect x="1125.72" y="513.60" width="16.54" height="91.20" fill="#fe1421"/>
<rect x="1141.96" y="513.60" width="16.54" height="91.20" fill="#fe1421"/>
<line x1="979.54" y1="513.6" x2="979.54" y2="604.5" stroke="#0d0d0d" stroke-width="1.6"/>
<line x1="995.78" y1="513.6" x2="995.78" y2="604.5" stroke="#0d0d0d" stroke-width="1.6"/>
<line x1="1012.02" y1="513.6" x2="1012.02" y2="604.5" stroke="#0d0d0d" stroke-width="1.6"/>
<line x1="1028.27" y1="513.6" x2="1028.27" y2="604.5" stroke="#0d0d0d" stroke-width="1.6"/>
<line x1="1044.51" y1="513.6" x2="1044.51" y2="604.5" stroke="#0d0d0d" stroke-width="1.6"/>
<line x1="1060.75" y1="513.6" x2="1060.75" y2="604.5" stroke="#0d0d0d" stroke-width="1.6"/>
<line x1="1076.99" y1="513.6" x2="1076.99" y2="604.5" stroke="#0d0d0d" stroke-width="1.6"/>
<line x1="1093.23" y1="513.6" x2="1093.23" y2="604.5" stroke="#0d0d0d" stroke-width="1.6"/>
<line x1="1109.47" y1="513.6" x2="1109.47" y2="604.5" stroke="#0d0d0d" stroke-width="1.6"/>
<line x1="1125.72" y1="513.6" x2="1125.72" y2="604.5" stroke="#0d0d0d" stroke-width="1.6"/>
<line x1="1141.96" y1="513.6" x2="1141.96" y2="604.5" stroke="#0d0d0d" stroke-width="1.6"/>
<rect x="963.3" y="513.6" width="194.90" height="90.90" fill="none" stroke="#0d0d0d" stroke-width="2.2"/>
<rect x="1173.00" y="513.30" width="16.54" height="91.50" fill="#fe1421"/>
<rect x="1189.24" y="513.30" width="16.54" height="91.50" fill="#fe1421"/>
<rect x="1205.49" y="513.30" width="16.54" height="91.50" fill="#fe1421"/>
<rect x="1221.73" y="513.30" width="16.54" height="91.50" fill="#fe1421"/>
<rect x="1237.98" y="513.30" width="16.54" height="20.00" fill="#00a547"/>
<rect x="1237.98" y="533.00" width="16.54" height="71.80" fill="#fe1421"/>
<rect x="1254.22" y="513.30" width="16.54" height="91.50" fill="#fe1421"/>
<rect x="1270.47" y="513.30" width="16.54" height="91.50" fill="#fe1421"/>
<rect x="1286.71" y="513.30" width="16.54" height="91.50" fill="#fe1421"/>
<rect x="1302.96" y="513.30" width="16.54" height="91.50" fill="#fe1421"/>
<line x1="1189.24" y1="513.3" x2="1189.24" y2="604.5" stroke="#0d0d0d" stroke-width="1.6"/>
<line x1="1205.49" y1="513.3" x2="1205.49" y2="604.5" stroke="#0d0d0d" stroke-width="1.6"/>
<line x1="1221.73" y1="513.3" x2="1221.73" y2="604.5" stroke="#0d0d0d" stroke-width="1.6"/>
<line x1="1237.98" y1="513.3" x2="1237.98" y2="604.5" stroke="#0d0d0d" stroke-width="1.6"/>
<line x1="1254.22" y1="513.3" x2="1254.22" y2="604.5" stroke="#0d0d0d" stroke-width="1.6"/>
<line x1="1270.47" y1="513.3" x2="1270.47" y2="604.5" stroke="#0d0d0d" stroke-width="1.6"/>
<line x1="1286.71" y1="513.3" x2="1286.71" y2="604.5" stroke="#0d0d0d" stroke-width="1.6"/>
<line x1="1302.96" y1="513.3" x2="1302.96" y2="604.5" stroke="#0d0d0d" stroke-width="1.6"/>
<rect x="1173" y="513.3" width="146.20" height="91.20" fill="none" stroke="#0d0d0d" stroke-width="2.2"/>
<text x="206" y="640" font-size="22.4" fill="#0071c1" text-anchor="middle" font-weight="bold">SFR</text>
<text x="328" y="640" font-size="22.4" fill="#0071c1" text-anchor="middle" font-weight="bold">FLO</text>
<text x="611.5" y="643.3" font-size="22.4" fill="#00a547" text-anchor="middle" font-weight="bold">GUA 2017</text>
<text x="800.3" y="643.3" font-size="22.4" fill="#00a547" text-anchor="middle" font-weight="bold">FUN 2017</text>
<text x="1053.5" y="642" font-size="22.4" fill="#fe1421" text-anchor="middle" font-weight="bold">GUA 2017</text>
<text x="1245.6" y="642" font-size="22.4" fill="#fe1421" text-anchor="middle" font-weight="bold">FUN 2017</text>
<text x="17.2" y="712.5" font-size="35" fill="#222"><tspan>(</tspan><tspan font-style="italic">c</tspan><tspan>)</tspan></text>
<text x="70.4" y="711" font-size="24.8" fill="#1a1a1a">NewHybrids microsatellites</text>
<rect x="112.00" y="734.60" width="8.26" height="118.70" fill="#00a547"/>
<rect x="119.96" y="734.60" width="8.26" height="118.70" fill="#00a547"/>
<rect x="127.93" y="734.60" width="8.26" height="118.70" fill="#00a547"/>
<rect x="135.89" y="734.60" width="8.26" height="118.70" fill="#00a547"/>
<rect x="143.86" y="734.60" width="8.26" height="118.70" fill="#00a547"/>
<rect x="151.82" y="734.60" width="8.26" height="118.70" fill="#00a547"/>
<rect x="159.78" y="734.60" width="8.26" height="118.70" fill="#00a547"/>
<rect x="167.75" y="734.60" width="8.26" height="118.70" fill="#00a547"/>
<rect x="175.71" y="734.60" width="8.26" height="118.70" fill="#00a547"/>
<rect x="183.68" y="734.60" width="8.26" height="118.70" fill="#00a547"/>
<rect x="191.64" y="734.60" width="8.26" height="118.70" fill="#00a547"/>
<rect x="199.61" y="734.60" width="8.26" height="118.70" fill="#00a547"/>
<rect x="207.57" y="734.60" width="8.26" height="118.70" fill="#00a547"/>
<rect x="215.53" y="734.60" width="8.26" height="118.70" fill="#00a547"/>
<rect x="223.50" y="734.60" width="8.26" height="118.70" fill="#00a547"/>
<rect x="231.46" y="734.60" width="8.26" height="118.70" fill="#00a547"/>
<rect x="239.43" y="734.60" width="8.26" height="118.70" fill="#00a547"/>
<rect x="247.39" y="734.60" width="8.26" height="118.70" fill="#00a547"/>
<rect x="255.35" y="734.60" width="8.26" height="118.70" fill="#00a547"/>
<rect x="263.32" y="734.60" width="8.26" height="118.70" fill="#00a547"/>
<rect x="271.28" y="734.60" width="8.26" height="118.70" fill="#00a547"/>
<rect x="279.25" y="734.60" width="8.26" height="118.70" fill="#00a547"/>
<rect x="287.21" y="734.60" width="8.26" height="118.70" fill="#00a547"/>
<rect x="295.18" y="734.60" width="8.26" height="118.70" fill="#00a547"/>
<rect x="303.14" y="734.60" width="8.26" height="118.70" fill="#00a547"/>
<rect x="311.10" y="734.60" width="8.26" height="118.70" fill="#00a547"/>
<rect x="319.07" y="734.60" width="8.26" height="118.70" fill="#00a547"/>
<rect x="327.03" y="734.60" width="8.26" height="118.70" fill="#00a547"/>
<rect x="335.00" y="734.60" width="8.26" height="118.70" fill="#00a547"/>
<rect x="342.96" y="734.60" width="8.26" height="118.70" fill="#00a547"/>
<rect x="350.92" y="734.60" width="8.26" height="118.70" fill="#00a547"/>
<rect x="358.89" y="734.60" width="8.26" height="118.70" fill="#00a547"/>
<rect x="366.85" y="734.60" width="8.26" height="118.70" fill="#00a547"/>
<rect x="374.82" y="734.60" width="8.26" height="118.70" fill="#00a547"/>
<rect x="382.78" y="734.60" width="8.26" height="118.70" fill="#00a547"/>
<rect x="390.74" y="734.60" width="8.26" height="118.70" fill="#00a547"/>
<rect x="398.71" y="734.60" width="8.26" height="118.70" fill="#00a547"/>
<rect x="406.67" y="734.60" width="8.26" height="118.70" fill="#00a547"/>
<rect x="414.64" y="734.60" width="8.26" height="118.70" fill="#00a547"/>
<rect x="422.60" y="734.60" width="8.26" height="118.70" fill="#00a547"/>
<rect x="430.57" y="734.60" width="8.26" height="118.70" fill="#00a547"/>
<rect x="438.53" y="734.60" width="8.26" height="118.70" fill="#00a547"/>
<rect x="446.49" y="734.60" width="8.26" height="118.70" fill="#00a547"/>
<rect x="454.46" y="734.60" width="8.26" height="118.70" fill="#00a547"/>
<rect x="462.42" y="734.60" width="8.26" height="118.70" fill="#00a547"/>
<rect x="470.39" y="734.60" width="8.26" height="118.70" fill="#00a547"/>
<rect x="478.35" y="734.60" width="8.26" height="118.70" fill="#00a547"/>
<rect x="486.31" y="734.60" width="8.26" height="118.70" fill="#00a547"/>
<rect x="494.28" y="734.60" width="8.26" height="118.70" fill="#00a547"/>
<rect x="502.24" y="734.60" width="8.26" height="118.70" fill="#00a547"/>
<rect x="510.21" y="734.60" width="8.26" height="118.70" fill="#00a547"/>
<rect x="518.17" y="734.60" width="8.26" height="118.70" fill="#00a547"/>
<rect x="526.14" y="734.60" width="8.26" height="118.70" fill="#00a547"/>
<rect x="534.10" y="734.60" width="8.26" height="118.70" fill="#00a547"/>
<rect x="542.06" y="734.60" width="8.26" height="118.70" fill="#00a547"/>
<rect x="550.03" y="734.60" width="8.26" height="118.70" fill="#00a547"/>
<rect x="557.99" y="734.60" width="8.26" height="118.70" fill="#00a547"/>
<rect x="565.96" y="734.60" width="8.26" height="118.70" fill="#00a547"/>
<rect x="573.92" y="734.60" width="8.26" height="118.70" fill="#00a547"/>
<rect x="581.88" y="734.60" width="8.26" height="118.70" fill="#00a547"/>
<rect x="589.85" y="734.60" width="8.26" height="118.70" fill="#00a547"/>
<rect x="597.81" y="734.60" width="8.26" height="118.70" fill="#00a547"/>
<rect x="605.78" y="734.60" width="8.26" height="118.70" fill="#00a547"/>
<rect x="613.74" y="734.60" width="8.26" height="118.70" fill="#00a547"/>
<rect x="621.70" y="734.60" width="8.26" height="118.70" fill="#00a547"/>
<rect x="629.67" y="734.60" width="8.26" height="118.70" fill="#00a547"/>
<rect x="637.63" y="734.60" width="8.26" height="118.70" fill="#00a547"/>
<rect x="645.60" y="734.60" width="8.26" height="118.70" fill="#00a547"/>
<rect x="653.56" y="734.60" width="8.26" height="118.70" fill="#00a547"/>
<rect x="661.53" y="734.60" width="8.26" height="118.70" fill="#00a547"/>
<rect x="669.49" y="734.60" width="8.26" height="118.70" fill="#00a547"/>
<rect x="677.45" y="734.60" width="8.26" height="118.70" fill="#00a547"/>
<rect x="685.42" y="734.60" width="8.26" height="118.70" fill="#00a547"/>
<rect x="693.38" y="734.60" width="8.26" height="118.70" fill="#00a547"/>
<rect x="701.35" y="734.60" width="8.26" height="118.70" fill="#00a547"/>
<rect x="709.31" y="734.60" width="8.26" height="118.70" fill="#00a547"/>
<rect x="717.27" y="734.60" width="8.26" height="118.70" fill="#00a547"/>
<rect x="725.24" y="734.60" width="8.26" height="118.70" fill="#00a547"/>
<rect x="733.20" y="734.60" width="8.26" height="118.70" fill="#00a547"/>
<rect x="741.17" y="734.60" width="8.26" height="118.70" fill="#00a547"/>
<rect x="749.13" y="734.60" width="8.26" height="118.70" fill="#00a547"/>
<rect x="757.10" y="734.60" width="8.26" height="118.70" fill="#00a547"/>
<rect x="765.06" y="734.60" width="8.26" height="118.70" fill="#00a547"/>
<rect x="773.02" y="734.60" width="8.26" height="118.70" fill="#00a547"/>
<rect x="780.99" y="734.60" width="8.26" height="118.70" fill="#00a547"/>
<rect x="788.95" y="734.60" width="8.26" height="118.70" fill="#00a547"/>
<rect x="796.92" y="734.60" width="8.26" height="118.70" fill="#00a547"/>
<rect x="804.88" y="734.60" width="8.26" height="118.70" fill="#00a547"/>
<rect x="812.84" y="734.60" width="8.26" height="118.70" fill="#00a547"/>
<rect x="820.81" y="734.60" width="8.26" height="118.70" fill="#00a547"/>
<rect x="828.77" y="734.60" width="8.26" height="118.70" fill="#00a547"/>
<rect x="836.74" y="734.60" width="8.26" height="118.70" fill="#00a547"/>
<rect x="844.70" y="734.60" width="8.26" height="118.70" fill="#b81b8f"/>
<rect x="852.66" y="734.60" width="8.26" height="118.70" fill="#b81b8f"/>
<rect x="860.63" y="734.60" width="8.26" height="118.70" fill="#b81b8f"/>
<rect x="868.59" y="734.60" width="8.26" height="118.70" fill="#b81b8f"/>
<rect x="876.56" y="734.60" width="8.26" height="118.70" fill="#b81b8f"/>
<rect x="884.52" y="734.60" width="8.26" height="118.70" fill="#b81b8f"/>
<rect x="892.49" y="734.60" width="8.26" height="10.96" fill="#ff847e"/>
<rect x="892.49" y="745.26" width="8.26" height="108.04" fill="#b81b8f"/>
<rect x="900.45" y="734.60" width="8.26" height="118.70" fill="#ff847e"/>
<rect x="908.41" y="734.60" width="8.26" height="118.70" fill="#ff847e"/>
<rect x="916.38" y="734.60" width="8.26" height="118.70" fill="#ff847e"/>
<rect x="924.34" y="734.60" width="8.26" height="118.70" fill="#ff847e"/>
<rect x="932.31" y="734.60" width="8.26" height="118.70" fill="#fe1421"/>
<rect x="940.27" y="734.60" width="8.26" height="118.70" fill="#fe1421"/>
<rect x="948.23" y="734.60" width="8.26" height="118.70" fill="#fe1421"/>
<rect x="956.20" y="734.60" width="8.26" height="118.70" fill="#fe1421"/>
<rect x="964.16" y="734.60" width="8.26" height="118.70" fill="#fe1421"/>
<rect x="972.13" y="734.60" width="8.26" height="118.70" fill="#fe1421"/>
<rect x="980.09" y="734.60" width="8.26" height="118.70" fill="#fe1421"/>
<rect x="988.06" y="734.60" width="8.26" height="118.70" fill="#fe1421"/>
<rect x="996.02" y="734.60" width="8.26" height="118.70" fill="#fe1421"/>
<rect x="1003.98" y="734.60" width="8.26" height="118.70" fill="#fe1421"/>
<rect x="1011.95" y="734.60" width="8.26" height="118.70" fill="#fe1421"/>
<rect x="1019.91" y="734.60" width="8.26" height="118.70" fill="#fe1421"/>
<rect x="1027.88" y="734.60" width="8.26" height="118.70" fill="#fe1421"/>
<rect x="1035.84" y="734.60" width="8.26" height="118.70" fill="#fe1421"/>
<rect x="1043.80" y="734.60" width="8.26" height="118.70" fill="#fe1421"/>
<rect x="1051.77" y="734.60" width="8.26" height="118.70" fill="#fe1421"/>
<rect x="1059.73" y="734.60" width="8.26" height="118.70" fill="#fe1421"/>
<rect x="1067.70" y="734.60" width="8.26" height="118.70" fill="#fe1421"/>
<rect x="1075.66" y="734.60" width="8.26" height="118.70" fill="#fe1421"/>
<rect x="1083.62" y="734.60" width="8.26" height="118.70" fill="#fe1421"/>
<rect x="1091.59" y="734.60" width="8.26" height="118.70" fill="#fe1421"/>
<rect x="1099.55" y="734.60" width="8.26" height="118.70" fill="#fe1421"/>
<rect x="1107.52" y="734.60" width="8.26" height="118.70" fill="#fe1421"/>
<rect x="1115.48" y="734.60" width="8.26" height="118.70" fill="#fe1421"/>
<rect x="1123.45" y="734.60" width="8.26" height="118.70" fill="#fe1421"/>
<rect x="1131.41" y="734.60" width="8.26" height="118.70" fill="#fe1421"/>
<rect x="1139.37" y="734.60" width="8.26" height="118.70" fill="#fe1421"/>
<rect x="1147.34" y="734.60" width="8.26" height="118.70" fill="#fe1421"/>
<rect x="1155.30" y="734.60" width="8.26" height="118.70" fill="#fe1421"/>
<rect x="1163.27" y="734.60" width="8.26" height="118.70" fill="#fe1421"/>
<rect x="1171.23" y="734.60" width="8.26" height="118.70" fill="#fe1421"/>
<rect x="1179.19" y="734.60" width="8.26" height="118.70" fill="#fe1421"/>
<rect x="1187.16" y="734.60" width="8.26" height="118.70" fill="#fe1421"/>
<rect x="1195.12" y="734.60" width="8.26" height="118.70" fill="#fe1421"/>
<rect x="1203.09" y="734.60" width="8.26" height="118.70" fill="#fe1421"/>
<rect x="1211.05" y="734.60" width="8.26" height="118.70" fill="#fe1421"/>
<rect x="1219.02" y="734.60" width="8.26" height="118.70" fill="#fe1421"/>
<rect x="1226.98" y="734.60" width="8.26" height="118.70" fill="#fe1421"/>
<rect x="1234.94" y="734.60" width="8.26" height="118.70" fill="#fe1421"/>
<rect x="1242.91" y="734.60" width="8.26" height="118.70" fill="#fe1421"/>
<rect x="1250.87" y="734.60" width="8.26" height="118.70" fill="#fe1421"/>
<rect x="1258.84" y="734.60" width="8.26" height="118.70" fill="#fe1421"/>
<line x1="119.96" y1="734.6" x2="119.96" y2="853.0" stroke="#0d0d0d" stroke-width="1.1"/>
<line x1="127.93" y1="734.6" x2="127.93" y2="853.0" stroke="#0d0d0d" stroke-width="1.1"/>
<line x1="135.89" y1="734.6" x2="135.89" y2="853.0" stroke="#0d0d0d" stroke-width="1.1"/>
<line x1="143.86" y1="734.6" x2="143.86" y2="853.0" stroke="#0d0d0d" stroke-width="1.1"/>
<line x1="151.82" y1="734.6" x2="151.82" y2="853.0" stroke="#0d0d0d" stroke-width="1.1"/>
<line x1="159.78" y1="734.6" x2="159.78" y2="853.0" stroke="#0d0d0d" stroke-width="1.1"/>
<line x1="167.75" y1="734.6" x2="167.75" y2="853.0" stroke="#0d0d0d" stroke-width="1.1"/>
<line x1="175.71" y1="734.6" x2="175.71" y2="853.0" stroke="#0d0d0d" stroke-width="1.1"/>
<line x1="183.68" y1="734.6" x2="183.68" y2="853.0" stroke="#0d0d0d" stroke-width="1.1"/>
<line x1="191.64" y1="734.6" x2="191.64" y2="853.0" stroke="#0d0d0d" stroke-width="1.1"/>
<line x1="199.61" y1="734.6" x2="199.61" y2="853.0" stroke="#0d0d0d" stroke-width="1.1"/>
<line x1="207.57" y1="734.6" x2="207.57" y2="853.0" stroke="#0d0d0d" stroke-width="1.1"/>
<line x1="215.53" y1="734.6" x2="215.53" y2="853.0" stroke="#0d0d0d" stroke-width="1.1"/>
<line x1="223.50" y1="734.6" x2="223.50" y2="853.0" stroke="#0d0d0d" stroke-width="1.1"/>
<line x1="231.46" y1="734.6" x2="231.46" y2="853.0" stroke="#0d0d0d" stroke-width="1.1"/>
<line x1="239.43" y1="734.6" x2="239.43" y2="853.0" stroke="#0d0d0d" stroke-width="1.1"/>
<line x1="247.39" y1="734.6" x2="247.39" y2="853.0" stroke="#0d0d0d" stroke-width="1.1"/>
<line x1="255.35" y1="734.6" x2="255.35" y2="853.0" stroke="#0d0d0d" stroke-width="1.1"/>
<line x1="263.32" y1="734.6" x2="263.32" y2="853.0" stroke="#0d0d0d" stroke-width="1.1"/>
<line x1="271.28" y1="734.6" x2="271.28" y2="853.0" stroke="#0d0d0d" stroke-width="1.1"/>
<line x1="279.25" y1="734.6" x2="279.25" y2="853.0" stroke="#0d0d0d" stroke-width="1.1"/>
<line x1="287.21" y1="734.6" x2="287.21" y2="853.0" stroke="#0d0d0d" stroke-width="1.1"/>
<line x1="295.18" y1="734.6" x2="295.18" y2="853.0" stroke="#0d0d0d" stroke-width="1.1"/>
<line x1="303.14" y1="734.6" x2="303.14" y2="853.0" stroke="#0d0d0d" stroke-width="1.1"/>
<line x1="311.10" y1="734.6" x2="311.10" y2="853.0" stroke="#0d0d0d" stroke-width="1.1"/>
<line x1="319.07" y1="734.6" x2="319.07" y2="853.0" stroke="#0d0d0d" stroke-width="1.1"/>
<line x1="327.03" y1="734.6" x2="327.03" y2="853.0" stroke="#0d0d0d" stroke-width="1.1"/>
<line x1="335.00" y1="734.6" x2="335.00" y2="853.0" stroke="#0d0d0d" stroke-width="1.1"/>
<line x1="342.96" y1="734.6" x2="342.96" y2="853.0" stroke="#0d0d0d" stroke-width="1.1"/>
<line x1="350.92" y1="734.6" x2="350.92" y2="853.0" stroke="#0d0d0d" stroke-width="1.1"/>
<line x1="358.89" y1="734.6" x2="358.89" y2="853.0" stroke="#0d0d0d" stroke-width="1.1"/>
<line x1="366.85" y1="734.6" x2="366.85" y2="853.0" stroke="#0d0d0d" stroke-width="1.1"/>
<line x1="374.82" y1="734.6" x2="374.82" y2="853.0" stroke="#0d0d0d" stroke-width="1.1"/>
<line x1="382.78" y1="734.6" x2="382.78" y2="853.0" stroke="#0d0d0d" stroke-width="1.1"/>
<line x1="390.74" y1="734.6" x2="390.74" y2="853.0" stroke="#0d0d0d" stroke-width="1.1"/>
<line x1="398.71" y1="734.6" x2="398.71" y2="853.0" stroke="#0d0d0d" stroke-width="1.1"/>
<line x1="406.67" y1="734.6" x2="406.67" y2="853.0" stroke="#0d0d0d" stroke-width="1.1"/>
<line x1="414.64" y1="734.6" x2="414.64" y2="853.0" stroke="#0d0d0d" stroke-width="1.1"/>
<line x1="422.60" y1="734.6" x2="422.60" y2="853.0" stroke="#0d0d0d" stroke-width="1.1"/>
<line x1="430.57" y1="734.6" x2="430.57" y2="853.0" stroke="#0d0d0d" stroke-width="1.1"/>
<line x1="438.53" y1="734.6" x2="438.53" y2="853.0" stroke="#0d0d0d" stroke-width="1.1"/>
<line x1="446.49" y1="734.6" x2="446.49" y2="853.0" stroke="#0d0d0d" stroke-width="1.1"/>
<line x1="454.46" y1="734.6" x2="454.46" y2="853.0" stroke="#0d0d0d" stroke-width="1.1"/>
<line x1="462.42" y1="734.6" x2="462.42" y2="853.0" stroke="#0d0d0d" stroke-width="1.1"/>
<line x1="470.39" y1="734.6" x2="470.39" y2="853.0" stroke="#0d0d0d" stroke-width="1.1"/>
<line x1="478.35" y1="734.6" x2="478.35" y2="853.0" stroke="#0d0d0d" stroke-width="1.1"/>
<line x1="486.31" y1="734.6" x2="486.31" y2="853.0" stroke="#0d0d0d" stroke-width="1.1"/>
<line x1="494.28" y1="734.6" x2="494.28" y2="853.0" stroke="#0d0d0d" stroke-width="1.1"/>
<line x1="502.24" y1="734.6" x2="502.24" y2="853.0" stroke="#0d0d0d" stroke-width="1.1"/>
<line x1="510.21" y1="734.6" x2="510.21" y2="853.0" stroke="#0d0d0d" stroke-width="1.1"/>
<line x1="518.17" y1="734.6" x2="518.17" y2="853.0" stroke="#0d0d0d" stroke-width="1.1"/>
<line x1="526.14" y1="734.6" x2="526.14" y2="853.0" stroke="#0d0d0d" stroke-width="1.1"/>
<line x1="534.10" y1="734.6" x2="534.10" y2="853.0" stroke="#0d0d0d" stroke-width="1.1"/>
<line x1="542.06" y1="734.6" x2="542.06" y2="853.0" stroke="#0d0d0d" stroke-width="1.1"/>
<line x1="550.03" y1="734.6" x2="550.03" y2="853.0" stroke="#0d0d0d" stroke-width="1.1"/>
<line x1="557.99" y1="734.6" x2="557.99" y2="853.0" stroke="#0d0d0d" stroke-width="1.1"/>
<line x1="565.96" y1="734.6" x2="565.96" y2="853.0" stroke="#0d0d0d" stroke-width="1.1"/>
<line x1="573.92" y1="734.6" x2="573.92" y2="853.0" stroke="#0d0d0d" stroke-width="1.1"/>
<line x1="581.88" y1="734.6" x2="581.88" y2="853.0" stroke="#0d0d0d" stroke-width="1.1"/>
<line x1="589.85" y1="734.6" x2="589.85" y2="853.0" stroke="#0d0d0d" stroke-width="1.1"/>
<line x1="597.81" y1="734.6" x2="597.81" y2="853.0" stroke="#0d0d0d" stroke-width="1.1"/>
<line x1="605.78" y1="734.6" x2="605.78" y2="853.0" stroke="#0d0d0d" stroke-width="1.1"/>
<line x1="613.74" y1="734.6" x2="613.74" y2="853.0" stroke="#0d0d0d" stroke-width="1.1"/>
<line x1="621.70" y1="734.6" x2="621.70" y2="853.0" stroke="#0d0d0d" stroke-width="1.1"/>
<line x1="629.67" y1="734.6" x2="629.67" y2="853.0" stroke="#0d0d0d" stroke-width="1.1"/>
<line x1="637.63" y1="734.6" x2="637.63" y2="853.0" stroke="#0d0d0d" stroke-width="1.1"/>
<line x1="645.60" y1="734.6" x2="645.60" y2="853.0" stroke="#0d0d0d" stroke-width="1.1"/>
<line x1="653.56" y1="734.6" x2="653.56" y2="853.0" stroke="#0d0d0d" stroke-width="1.1"/>
<line x1="661.53" y1="734.6" x2="661.53" y2="853.0" stroke="#0d0d0d" stroke-width="1.1"/>
<line x1="669.49" y1="734.6" x2="669.49" y2="853.0" stroke="#0d0d0d" stroke-width="1.1"/>
<line x1="677.45" y1="734.6" x2="677.45" y2="853.0" stroke="#0d0d0d" stroke-width="1.1"/>
<line x1="685.42" y1="734.6" x2="685.42" y2="853.0" stroke="#0d0d0d" stroke-width="1.1"/>
<line x1="693.38" y1="734.6" x2="693.38" y2="853.0" stroke="#0d0d0d" stroke-width="1.1"/>
<line x1="701.35" y1="734.6" x2="701.35" y2="853.0" stroke="#0d0d0d" stroke-width="1.1"/>
<line x1="709.31" y1="734.6" x2="709.31" y2="853.0" stroke="#0d0d0d" stroke-width="1.1"/>
<line x1="717.27" y1="734.6" x2="717.27" y2="853.0" stroke="#0d0d0d" stroke-width="1.1"/>
<line x1="725.24" y1="734.6" x2="725.24" y2="853.0" stroke="#0d0d0d" stroke-width="1.1"/>
<line x1="733.20" y1="734.6" x2="733.20" y2="853.0" stroke="#0d0d0d" stroke-width="1.1"/>
<line x1="741.17" y1="734.6" x2="741.17" y2="853.0" stroke="#0d0d0d" stroke-width="1.1"/>
<line x1="749.13" y1="734.6" x2="749.13" y2="853.0" stroke="#0d0d0d" stroke-width="1.1"/>
<line x1="757.10" y1="734.6" x2="757.10" y2="853.0" stroke="#0d0d0d" stroke-width="1.1"/>
<line x1="765.06" y1="734.6" x2="765.06" y2="853.0" stroke="#0d0d0d" stroke-width="1.1"/>
<line x1="773.02" y1="734.6" x2="773.02" y2="853.0" stroke="#0d0d0d" stroke-width="1.1"/>
<line x1="780.99" y1="734.6" x2="780.99" y2="853.0" stroke="#0d0d0d" stroke-width="1.1"/>
<line x1="788.95" y1="734.6" x2="788.95" y2="853.0" stroke="#0d0d0d" stroke-width="1.1"/>
<line x1="796.92" y1="734.6" x2="796.92" y2="853.0" stroke="#0d0d0d" stroke-width="1.1"/>
<line x1="804.88" y1="734.6" x2="804.88" y2="853.0" stroke="#0d0d0d" stroke-width="1.1"/>
<line x1="812.84" y1="734.6" x2="812.84" y2="853.0" stroke="#0d0d0d" stroke-width="1.1"/>
<line x1="820.81" y1="734.6" x2="820.81" y2="853.0" stroke="#0d0d0d" stroke-width="1.1"/>
<line x1="828.77" y1="734.6" x2="828.77" y2="853.0" stroke="#0d0d0d" stroke-width="1.1"/>
<line x1="836.74" y1="734.6" x2="836.74" y2="853.0" stroke="#0d0d0d" stroke-width="1.1"/>
<line x1="844.70" y1="734.6" x2="844.70" y2="853.0" stroke="#0d0d0d" stroke-width="2.4"/>
<line x1="852.66" y1="734.6" x2="852.66" y2="853.0" stroke="#0d0d0d" stroke-width="1.1"/>
<line x1="860.63" y1="734.6" x2="860.63" y2="853.0" stroke="#0d0d0d" stroke-width="1.1"/>
<line x1="868.59" y1="734.6" x2="868.59" y2="853.0" stroke="#0d0d0d" stroke-width="1.1"/>
<line x1="876.56" y1="734.6" x2="876.56" y2="853.0" stroke="#0d0d0d" stroke-width="1.1"/>
<line x1="884.52" y1="734.6" x2="884.52" y2="853.0" stroke="#0d0d0d" stroke-width="1.1"/>
<line x1="892.49" y1="734.6" x2="892.49" y2="853.0" stroke="#0d0d0d" stroke-width="1.1"/>
<line x1="900.45" y1="734.6" x2="900.45" y2="853.0" stroke="#0d0d0d" stroke-width="2.4"/>
<line x1="908.41" y1="734.6" x2="908.41" y2="853.0" stroke="#0d0d0d" stroke-width="1.1"/>
<line x1="916.38" y1="734.6" x2="916.38" y2="853.0" stroke="#0d0d0d" stroke-width="1.1"/>
<line x1="924.34" y1="734.6" x2="924.34" y2="853.0" stroke="#0d0d0d" stroke-width="1.1"/>
<line x1="932.31" y1="734.6" x2="932.31" y2="853.0" stroke="#0d0d0d" stroke-width="2.4"/>
<line x1="940.27" y1="734.6" x2="940.27" y2="853.0" stroke="#0d0d0d" stroke-width="1.1"/>
<line x1="948.23" y1="734.6" x2="948.23" y2="853.0" stroke="#0d0d0d" stroke-width="1.1"/>
<line x1="956.20" y1="734.6" x2="956.20" y2="853.0" stroke="#0d0d0d" stroke-width="1.1"/>
<line x1="964.16" y1="734.6" x2="964.16" y2="853.0" stroke="#0d0d0d" stroke-width="1.1"/>
<line x1="972.13" y1="734.6" x2="972.13" y2="853.0" stroke="#0d0d0d" stroke-width="1.1"/>
<line x1="980.09" y1="734.6" x2="980.09" y2="853.0" stroke="#0d0d0d" stroke-width="1.1"/>
<line x1="988.06" y1="734.6" x2="988.06" y2="853.0" stroke="#0d0d0d" stroke-width="1.1"/>
<line x1="996.02" y1="734.6" x2="996.02" y2="853.0" stroke="#0d0d0d" stroke-width="1.1"/>
<line x1="1003.98" y1="734.6" x2="1003.98" y2="853.0" stroke="#0d0d0d" stroke-width="1.1"/>
<line x1="1011.95" y1="734.6" x2="1011.95" y2="853.0" stroke="#0d0d0d" stroke-width="1.1"/>
<line x1="1019.91" y1="734.6" x2="1019.91" y2="853.0" stroke="#0d0d0d" stroke-width="1.1"/>
<line x1="1027.88" y1="734.6" x2="1027.88" y2="853.0" stroke="#0d0d0d" stroke-width="1.1"/>
<line x1="1035.84" y1="734.6" x2="1035.84" y2="853.0" stroke="#0d0d0d" stroke-width="1.1"/>
<line x1="1043.80" y1="734.6" x2="1043.80" y2="853.0" stroke="#0d0d0d" stroke-width="1.1"/>
<line x1="1051.77" y1="734.6" x2="1051.77" y2="853.0" stroke="#0d0d0d" stroke-width="1.1"/>
<line x1="1059.73" y1="734.6" x2="1059.73" y2="853.0" stroke="#0d0d0d" stroke-width="1.1"/>
<line x1="1067.70" y1="734.6" x2="1067.70" y2="853.0" stroke="#0d0d0d" stroke-width="1.1"/>
<line x1="1075.66" y1="734.6" x2="1075.66" y2="853.0" stroke="#0d0d0d" stroke-width="1.1"/>
<line x1="1083.62" y1="734.6" x2="1083.62" y2="853.0" stroke="#0d0d0d" stroke-width="1.1"/>
<line x1="1091.59" y1="734.6" x2="1091.59" y2="853.0" stroke="#0d0d0d" stroke-width="1.1"/>
<line x1="1099.55" y1="734.6" x2="1099.55" y2="853.0" stroke="#0d0d0d" stroke-width="1.1"/>
<line x1="1107.52" y1="734.6" x2="1107.52" y2="853.0" stroke="#0d0d0d" stroke-width="1.1"/>
<line x1="1115.48" y1="734.6" x2="1115.48" y2="853.0" stroke="#0d0d0d" stroke-width="1.1"/>
<line x1="1123.45" y1="734.6" x2="1123.45" y2="853.0" stroke="#0d0d0d" stroke-width="1.1"/>
<line x1="1131.41" y1="734.6" x2="1131.41" y2="853.0" stroke="#0d0d0d" stroke-width="1.1"/>
<line x1="1139.37" y1="734.6" x2="1139.37" y2="853.0" stroke="#0d0d0d" stroke-width="1.1"/>
<line x1="1147.34" y1="734.6" x2="1147.34" y2="853.0" stroke="#0d0d0d" stroke-width="1.1"/>
<line x1="1155.30" y1="734.6" x2="1155.30" y2="853.0" stroke="#0d0d0d" stroke-width="1.1"/>
<line x1="1163.27" y1="734.6" x2="1163.27" y2="853.0" stroke="#0d0d0d" stroke-width="1.1"/>
<line x1="1171.23" y1="734.6" x2="1171.23" y2="853.0" stroke="#0d0d0d" stroke-width="1.1"/>
<line x1="1179.19" y1="734.6" x2="1179.19" y2="853.0" stroke="#0d0d0d" stroke-width="1.1"/>
<line x1="1187.16" y1="734.6" x2="1187.16" y2="853.0" stroke="#0d0d0d" stroke-width="1.1"/>
<line x1="1195.12" y1="734.6" x2="1195.12" y2="853.0" stroke="#0d0d0d" stroke-width="1.1"/>
<line x1="1203.09" y1="734.6" x2="1203.09" y2="853.0" stroke="#0d0d0d" stroke-width="1.1"/>
<line x1="1211.05" y1="734.6" x2="1211.05" y2="853.0" stroke="#0d0d0d" stroke-width="1.1"/>
<line x1="1219.02" y1="734.6" x2="1219.02" y2="853.0" stroke="#0d0d0d" stroke-width="1.1"/>
<line x1="1226.98" y1="734.6" x2="1226.98" y2="853.0" stroke="#0d0d0d" stroke-width="1.1"/>
<line x1="1234.94" y1="734.6" x2="1234.94" y2="853.0" stroke="#0d0d0d" stroke-width="1.1"/>
<line x1="1242.91" y1="734.6" x2="1242.91" y2="853.0" stroke="#0d0d0d" stroke-width="1.1"/>
<line x1="1250.87" y1="734.6" x2="1250.87" y2="853.0" stroke="#0d0d0d" stroke-width="1.1"/>
<line x1="1258.84" y1="734.6" x2="1258.84" y2="853.0" stroke="#0d0d0d" stroke-width="1.1"/>
<rect x="110.8" y="733.4" width="1157.20" height="120.80" fill="none" stroke="#0d0d0d" stroke-width="2.4"/>
<text x="512.8" y="881.2" font-size="22.6" fill="#1a1a1a" text-anchor="middle" font-weight="bold">“Pure” <tspan font-style="italic">K. ocellatus</tspan></text>
<text x="872.4" y="881" font-size="22.5" fill="#1a1a1a" text-anchor="middle" font-weight="bold">F1</text>
<text x="1098.8" y="880.5" font-size="22.6" fill="#1a1a1a" text-anchor="middle" font-weight="bold">“Pure” <tspan font-style="italic">K. hermaphroditus</tspan></text>
<text x="998.7" y="913.6" font-size="22.6" fill="#1a1a1a" text-anchor="middle" font-weight="bold"><tspan font-style="italic">K. ocellatus</tspan> x F1</text>
<path d="M948.1,896.3 L917.8,859 M928.5,861.8 L917.8,859 L918.3,869.6" fill="none" stroke="#9a9a9a" stroke-width="1.7"/>
<text x="16.5" y="913.5" font-size="35" fill="#222"><tspan>(</tspan><tspan font-style="italic">d</tspan><tspan>)</tspan></text>
<text x="70" y="913.5" font-size="24.8" fill="#1a1a1a">NewHybrids SNPs</text>
<rect x="108.85" y="937.50" width="29.90" height="122.40" fill="#00a547"/>
<rect x="138.45" y="937.50" width="29.90" height="122.40" fill="#00a547"/>
<rect x="168.06" y="937.50" width="29.90" height="122.40" fill="#00a547"/>
<rect x="197.66" y="937.50" width="29.90" height="122.40" fill="#00a547"/>
<rect x="227.27" y="937.50" width="29.90" height="122.40" fill="#00a547"/>
<rect x="256.87" y="937.50" width="29.90" height="122.40" fill="#00a547"/>
<rect x="286.47" y="937.50" width="29.90" height="122.40" fill="#00a547"/>
<rect x="316.08" y="937.50" width="29.90" height="122.40" fill="#00a547"/>
<rect x="345.68" y="937.50" width="29.90" height="122.40" fill="#00a547"/>
<rect x="375.28" y="937.50" width="29.90" height="122.40" fill="#00a547"/>
<rect x="404.89" y="937.50" width="29.90" height="122.40" fill="#00a547"/>
<rect x="434.49" y="937.50" width="29.90" height="122.40" fill="#b81b8f"/>
<rect x="464.10" y="937.50" width="29.90" height="122.40" fill="#b81b8f"/>
<rect x="493.70" y="937.50" width="29.90" height="122.40" fill="#b81b8f"/>
<rect x="523.30" y="937.50" width="29.90" height="122.40" fill="#b81b8f"/>
<rect x="552.91" y="937.50" width="29.90" height="122.40" fill="#b81b8f"/>
<rect x="582.51" y="937.50" width="29.90" height="122.40" fill="#ff847e"/>
<rect x="612.12" y="937.50" width="29.90" height="122.40" fill="#ff04d6"/>
<rect x="641.72" y="937.50" width="29.90" height="122.40" fill="#fe1421"/>
<rect x="671.32" y="937.50" width="29.90" height="122.40" fill="#fe1421"/>
<rect x="700.93" y="937.50" width="29.90" height="122.40" fill="#fe1421"/>
<rect x="730.53" y="937.50" width="29.90" height="122.40" fill="#fe1421"/>
<rect x="760.13" y="937.50" width="29.90" height="122.40" fill="#fe1421"/>
<rect x="789.74" y="937.50" width="29.90" height="122.40" fill="#fe1421"/>
<rect x="819.34" y="937.50" width="29.90" height="122.40" fill="#fe1421"/>
<rect x="848.95" y="937.50" width="29.90" height="122.40" fill="#fe1421"/>
<rect x="878.55" y="937.50" width="29.90" height="122.40" fill="#fe1421"/>
<rect x="908.15" y="937.50" width="29.90" height="122.40" fill="#fe1421"/>
<rect x="937.76" y="937.50" width="29.90" height="122.40" fill="#fe1421"/>
<rect x="967.36" y="937.50" width="29.90" height="122.40" fill="#fe1421"/>
<rect x="996.97" y="937.50" width="29.90" height="122.40" fill="#fe1421"/>
<rect x="1026.57" y="937.50" width="29.90" height="122.40" fill="#fe1421"/>
<rect x="1056.17" y="937.50" width="29.90" height="122.40" fill="#fe1421"/>
<rect x="1085.78" y="937.50" width="29.90" height="122.40" fill="#fe1421"/>
<rect x="1115.38" y="937.50" width="29.90" height="122.40" fill="#fe1421"/>
<rect x="1144.98" y="937.50" width="29.90" height="122.40" fill="#fe1421"/>
<rect x="1174.59" y="937.50" width="29.90" height="122.40" fill="#fe1421"/>
<rect x="1204.19" y="937.50" width="29.90" height="122.40" fill="#fe1421"/>
<rect x="1233.80" y="937.50" width="29.90" height="122.40" fill="#fe1421"/>
<line x1="138.45" y1="937.5" x2="138.45" y2="1059.6" stroke="#0d0d0d" stroke-width="1.4"/>
<line x1="168.06" y1="937.5" x2="168.06" y2="1059.6" stroke="#0d0d0d" stroke-width="1.4"/>
<line x1="197.66" y1="937.5" x2="197.66" y2="1059.6" stroke="#0d0d0d" stroke-width="1.4"/>
<line x1="227.27" y1="937.5" x2="227.27" y2="1059.6" stroke="#0d0d0d" stroke-width="1.4"/>
<line x1="256.87" y1="937.5" x2="256.87" y2="1059.6" stroke="#0d0d0d" stroke-width="1.4"/>
<line x1="286.47" y1="937.5" x2="286.47" y2="1059.6" stroke="#0d0d0d" stroke-width="1.4"/>
<line x1="316.08" y1="937.5" x2="316.08" y2="1059.6" stroke="#0d0d0d" stroke-width="1.4"/>
<line x1="345.68" y1="937.5" x2="345.68" y2="1059.6" stroke="#0d0d0d" stroke-width="1.4"/>
<line x1="375.28" y1="937.5" x2="375.28" y2="1059.6" stroke="#0d0d0d" stroke-width="1.4"/>
<line x1="404.89" y1="937.5" x2="404.89" y2="1059.6" stroke="#0d0d0d" stroke-width="1.4"/>
<line x1="434.49" y1="937.5" x2="434.49" y2="1059.6" stroke="#0d0d0d" stroke-width="3.5"/>
<line x1="464.10" y1="937.5" x2="464.10" y2="1059.6" stroke="#0d0d0d" stroke-width="1.4"/>
<line x1="493.70" y1="937.5" x2="493.70" y2="1059.6" stroke="#0d0d0d" stroke-width="1.4"/>
<line x1="523.30" y1="937.5" x2="523.30" y2="1059.6" stroke="#0d0d0d" stroke-width="1.4"/>
<line x1="552.91" y1="937.5" x2="552.91" y2="1059.6" stroke="#0d0d0d" stroke-width="1.4"/>
<line x1="582.51" y1="937.5" x2="582.51" y2="1059.6" stroke="#0d0d0d" stroke-width="3.5"/>
<line x1="612.12" y1="937.5" x2="612.12" y2="1059.6" stroke="#0d0d0d" stroke-width="3.5"/>
<line x1="641.72" y1="937.5" x2="641.72" y2="1059.6" stroke="#0d0d0d" stroke-width="3.5"/>
<line x1="671.32" y1="937.5" x2="671.32" y2="1059.6" stroke="#0d0d0d" stroke-width="1.4"/>
<line x1="700.93" y1="937.5" x2="700.93" y2="1059.6" stroke="#0d0d0d" stroke-width="1.4"/>
<line x1="730.53" y1="937.5" x2="730.53" y2="1059.6" stroke="#0d0d0d" stroke-width="1.4"/>
<line x1="760.13" y1="937.5" x2="760.13" y2="1059.6" stroke="#0d0d0d" stroke-width="1.4"/>
<line x1="789.74" y1="937.5" x2="789.74" y2="1059.6" stroke="#0d0d0d" stroke-width="1.4"/>
<line x1="819.34" y1="937.5" x2="819.34" y2="1059.6" stroke="#0d0d0d" stroke-width="1.4"/>
<line x1="848.95" y1="937.5" x2="848.95" y2="1059.6" stroke="#0d0d0d" stroke-width="1.4"/>
<line x1="878.55" y1="937.5" x2="878.55" y2="1059.6" stroke="#0d0d0d" stroke-width="1.4"/>
<line x1="908.15" y1="937.5" x2="908.15" y2="1059.6" stroke="#0d0d0d" stroke-width="1.4"/>
<line x1="937.76" y1="937.5" x2="937.76" y2="1059.6" stroke="#0d0d0d" stroke-width="1.4"/>
<line x1="967.36" y1="937.5" x2="967.36" y2="1059.6" stroke="#0d0d0d" stroke-width="1.4"/>
<line x1="996.97" y1="937.5" x2="996.97" y2="1059.6" stroke="#0d0d0d" stroke-width="1.4"/>
<line x1="1026.57" y1="937.5" x2="1026.57" y2="1059.6" stroke="#0d0d0d" stroke-width="1.4"/>
<line x1="1056.17" y1="937.5" x2="1056.17" y2="1059.6" stroke="#0d0d0d" stroke-width="1.4"/>
<line x1="1085.78" y1="937.5" x2="1085.78" y2="1059.6" stroke="#0d0d0d" stroke-width="1.4"/>
<line x1="1115.38" y1="937.5" x2="1115.38" y2="1059.6" stroke="#0d0d0d" stroke-width="1.4"/>
<line x1="1144.98" y1="937.5" x2="1144.98" y2="1059.6" stroke="#0d0d0d" stroke-width="1.4"/>
<line x1="1174.59" y1="937.5" x2="1174.59" y2="1059.6" stroke="#0d0d0d" stroke-width="1.4"/>
<line x1="1204.19" y1="937.5" x2="1204.19" y2="1059.6" stroke="#0d0d0d" stroke-width="1.4"/>
<line x1="1233.80" y1="937.5" x2="1233.80" y2="1059.6" stroke="#0d0d0d" stroke-width="1.4"/>
<rect x="106.85" y="935.5" width="1158.55" height="126.10" fill="none" stroke="#0d0d0d" stroke-width="4.0"/>
<text x="278.2" y="1091" font-size="22.6" fill="#1a1a1a" text-anchor="middle" font-weight="bold">“Pure” <tspan font-style="italic">K. ocellatus</tspan></text>
<text x="521.2" y="1091.1" font-size="22.6" fill="#1a1a1a" text-anchor="middle" font-weight="bold">F1</text>
<text x="977.5" y="1089" font-size="22.6" fill="#1a1a1a" text-anchor="middle" font-weight="bold">“Pure” <tspan font-style="italic">K. hermaphroditus</tspan></text>
<text x="506.5" y="1119.3" font-size="22.6" fill="#1a1a1a" text-anchor="middle" font-weight="bold"><tspan font-style="italic">K. ocellatus</tspan> x F1</text>
<text x="750" y="1119.3" font-size="22.6" fill="#1a1a1a" text-anchor="middle" font-weight="bold"><tspan font-style="italic">K. hermaphroditus</tspan> x F1</text>
<path d="M566.7,1099.5 L591.3,1069.2 M582.1,1072 L591.3,1069.2 L590.5,1077.6 M657.2,1099.5 L631.5,1069.2 M640.7,1072 L631.5,1069.2 L632.3,1077.6" fill="none" stroke="#9a9a9a" stroke-width="1.7"/>
<defs><linearGradient id="b1" x1="0" y1="0" x2="0" y2="1"><stop offset="0" stop-color="#5e4232"/><stop offset="0.5" stop-color="#6c4638"/><stop offset="1" stop-color="#9a7460"/></linearGradient><linearGradient id="b2" x1="0" y1="0" x2="0" y2="1"><stop offset="0" stop-color="#6c5842"/><stop offset="0.45" stop-color="#7a574e"/><stop offset="1" stop-color="#b4948c"/></linearGradient></defs>
<clipPath id="c1"><path d="M416,127 C450,120 480,113 512,113 C552,113 592,125 612,135 C620,139 624,142 622,145 C614,151 600,157 585,159 C560,161 530,157 500,156 C470,156 440,156 416,153 Z"/></clipPath>
<path d="M424,128 C408,116 384,117 379,134 C375,152 384,167 398,167 C410,167 418,162 424,155 Z" fill="#aeac8e"/>
<path d="M422,130 C414,128 408,134 408,141 C408,148 414,153 422,152 Z" fill="#8f7d62" opacity="0.6"/>
<path d="M443,123 C437,110 440,98 452,96 C466,94 475,104 473,119 Z" fill="#a2ae9b"/>
<path d="M447,152 C449,165 462,175 480,173 C493,171 498,161 496,153 Z" fill="#bdc89b"/>
<path d="M497,156 L512,157 L502,164 Z" fill="#a9bb9a"/>
<path d="M416,127 C450,120 480,113 512,113 C552,113 592,125 612,135 C620,139 624,142 622,145 C614,151 600,157 585,159 C560,161 530,157 500,156 C470,156 440,156 416,153 Z" fill="url(#b1)"/>
<g clip-path="url(#c1)">
<path d="M560,120 C590,126 612,134 625,144 C610,152 595,158 580,160 C570,150 565,135 560,120 Z" fill="#7e604c" opacity="0.5"/>
<ellipse cx="428.7" cy="120.2" rx="2.4" ry="1.9" fill="#d6b9aa" opacity="0.75"/>
<ellipse cx="438.5" cy="120.4" rx="2.4" ry="1.9" fill="#d6b9aa" opacity="0.75"/>
<ellipse cx="449.0" cy="118.3" rx="2.4" ry="1.9" fill="#d6b9aa" opacity="0.75"/>
<ellipse cx="455.2" cy="121.3" rx="2.4" ry="1.9" fill="#d6b9aa" opacity="0.75"/>
<ellipse cx="465.6" cy="118.9" rx="2.4" ry="1.9" fill="#d6b9aa" opacity="0.75"/>
<ellipse cx="478.5" cy="119.9" rx="2.4" ry="1.9" fill="#d6b9aa" opacity="0.75"/>
<ellipse cx="486.9" cy="119.9" rx="2.4" ry="1.9" fill="#d6b9aa" opacity="0.75"/>
<ellipse cx="495.1" cy="118.6" rx="2.4" ry="1.9" fill="#d6b9aa" opacity="0.75"/>
<ellipse cx="504.3" cy="121.5" rx="2.4" ry="1.9" fill="#d6b9aa" opacity="0.75"/>
<ellipse cx="512.9" cy="121.0" rx="2.4" ry="1.9" fill="#d6b9aa" opacity="0.75"/>
<ellipse cx="522.9" cy="118.3" rx="2.4" ry="1.9" fill="#d6b9aa" opacity="0.75"/>
<ellipse cx="532.5" cy="120.4" rx="2.4" ry="1.9" fill="#d6b9aa" opacity="0.75"/>
<ellipse cx="539.4" cy="118.1" rx="2.4" ry="1.9" fill="#d6b9aa" opacity="0.75"/>
<ellipse cx="551.4" cy="119.9" rx="2.4" ry="1.9" fill="#d6b9aa" opacity="0.75"/>
<ellipse cx="559.9" cy="121.5" rx="2.4" ry="1.9" fill="#d6b9aa" opacity="0.75"/>
<ellipse cx="569.1" cy="121.7" rx="2.4" ry="1.9" fill="#d6b9aa" opacity="0.75"/>
<ellipse cx="434.0" cy="129.7" rx="2.4" ry="1.9" fill="#d6b9aa" opacity="0.75"/>
<ellipse cx="443.4" cy="130.2" rx="2.4" ry="1.9" fill="#d6b9aa" opacity="0.75"/>
<ellipse cx="454.8" cy="126.9" rx="2.4" ry="1.9" fill="#d6b9aa" opacity="0.75"/>
<ellipse cx="460.3" cy="127.4" rx="2.4" ry="1.9" fill="#d6b9aa" opacity="0.75"/>
<ellipse cx="473.6" cy="128.2" rx="2.4" ry="1.9" fill="#d6b9aa" opacity="0.75"/>
<ellipse cx="481.1" cy="127.7" rx="2.4" ry="1.9" fill="#d6b9aa" opacity="0.75"/>
<ellipse cx="489.7" cy="128.0" rx="2.4" ry="1.9" fill="#d6b9aa" opacity="0.75"/>
<ellipse cx="498.2" cy="128.8" rx="2.4" ry="1.9" fill="#d6b9aa" opacity="0.75"/>
<ellipse cx="508.5" cy="130.1" rx="2.4" ry="1.9" fill="#d6b9aa" opacity="0.75"/>
<ellipse cx="518.2" cy="130.2" rx="2.4" ry="1.9" fill="#d6b9aa" opacity="0.75"/>
<ellipse cx="528.3" cy="130.5" rx="2.4" ry="1.9" fill="#d6b9aa" opacity="0.75"/>
<ellipse cx="536.6" cy="127.2" rx="2.4" ry="1.9" fill="#d6b9aa" opacity="0.75"/>
<ellipse cx="546.7" cy="130.4" rx="2.4" ry="1.9" fill="#d6b9aa" opacity="0.75"/>
<ellipse cx="556.1" cy="128.8" rx="2.4" ry="1.9" fill="#d6b9aa" opacity="0.75"/>
<ellipse cx="564.4" cy="127.3" rx="2.4" ry="1.9" fill="#d6b9aa" opacity="0.75"/>
<ellipse cx="574.2" cy="128.8" rx="2.4" ry="1.9" fill="#d6b9aa" opacity="0.75"/>
<ellipse cx="428.9" cy="135.3" rx="2.4" ry="1.9" fill="#d6b9aa" opacity="0.75"/>
<ellipse cx="441.0" cy="139.0" rx="2.4" ry="1.9" fill="#d6b9aa" opacity="0.75"/>
<ellipse cx="446.3" cy="138.2" rx="2.4" ry="1.9" fill="#d6b9aa" opacity="0.75"/>
<ellipse cx="457.2" cy="135.6" rx="2.4" ry="1.9" fill="#d6b9aa" opacity="0.75"/>
<ellipse cx="465.8" cy="138.1" rx="2.4" ry="1.9" fill="#d6b9aa" opacity="0.75"/>
<ellipse cx="477.9" cy="135.2" rx="2.4" ry="1.9" fill="#d6b9aa" opacity="0.75"/>
<ellipse cx="485.8" cy="135.2" rx="2.4" ry="1.9" fill="#d6b9aa" opacity="0.75"/>
<ellipse cx="495.5" cy="136.3" rx="2.4" ry="1.9" fill="#d6b9aa" opacity="0.75"/>
<ellipse cx="505.5" cy="138.9" rx="2.4" ry="1.9" fill="#d6b9aa" opacity="0.75"/>
<ellipse cx="512.8" cy="139.0" rx="2.4" ry="1.9" fill="#d6b9aa" opacity="0.75"/>
<ellipse cx="521.0" cy="135.3" rx="2.4" ry="1.9" fill="#d6b9aa" opacity="0.75"/>
<ellipse cx="531.7" cy="135.1" rx="2.4" ry="1.9" fill="#d6b9aa" opacity="0.75"/>
<ellipse cx="538.9" cy="136.6" rx="2.4" ry="1.9" fill="#d6b9aa" opacity="0.75"/>
<ellipse cx="550.2" cy="135.6" rx="2.4" ry="1.9" fill="#d6b9aa" opacity="0.75"/>
<ellipse cx="556.5" cy="138.5" rx="2.4" ry="1.9" fill="#d6b9aa" opacity="0.75"/>
<ellipse cx="567.1" cy="138.8" rx="2.4" ry="1.9" fill="#d6b9aa" opacity="0.75"/>
<ellipse cx="436.5" cy="145.0" rx="2.4" ry="1.9" fill="#d6b9aa" opacity="0.75"/>
<ellipse cx="443.5" cy="145.6" rx="2.4" ry="1.9" fill="#d6b9aa" opacity="0.75"/>
<ellipse cx="453.6" cy="145.9" rx="2.4" ry="1.9" fill="#d6b9aa" opacity="0.75"/>
<ellipse cx="462.4" cy="146.0" rx="2.4" ry="1.9" fill="#d6b9aa" opacity="0.75"/>
<ellipse cx="473.5" cy="145.5" rx="2.4" ry="1.9" fill="#d6b9aa" opacity="0.75"/>
<ellipse cx="480.2" cy="146.4" rx="2.4" ry="1.9" fill="#d6b9aa" opacity="0.75"/>
<ellipse cx="488.4" cy="144.7" rx="2.4" ry="1.9" fill="#d6b9aa" opacity="0.75"/>
<ellipse cx="501.3" cy="145.6" rx="2.4" ry="1.9" fill="#d6b9aa" opacity="0.75"/>
<ellipse cx="508.3" cy="143.5" rx="2.4" ry="1.9" fill="#d6b9aa" opacity="0.75"/>
<ellipse cx="516.9" cy="145.8" rx="2.4" ry="1.9" fill="#d6b9aa" opacity="0.75"/>
<ellipse cx="524.1" cy="146.0" rx="2.4" ry="1.9" fill="#d6b9aa" opacity="0.75"/>
<ellipse cx="536.4" cy="143.7" rx="2.4" ry="1.9" fill="#d6b9aa" opacity="0.75"/>
<ellipse cx="545.5" cy="145.4" rx="2.4" ry="1.9" fill="#d6b9aa" opacity="0.75"/>
<ellipse cx="555.0" cy="144.9" rx="2.4" ry="1.9" fill="#d6b9aa" opacity="0.75"/>
<ellipse cx="564.3" cy="146.5" rx="2.4" ry="1.9" fill="#d6b9aa" opacity="0.75"/>
<ellipse cx="570.1" cy="143.7" rx="2.4" ry="1.9" fill="#d6b9aa" opacity="0.75"/>
</g>
<circle cx="421.5" cy="133.6" r="3.8" fill="#1d1410"/><circle cx="564.3" cy="137.5" r="4.3" fill="#2a1a14"/><circle cx="608" cy="143" r="3.2" fill="#1d1410"/>
<clipPath id="c2"><path d="M1021,143 C1035,132 1060,122 1103,118 C1140,116 1165,121 1185,128 C1192,131 1196,133 1199,134 L1199,151 C1180,151 1160,152 1130,152 C1100,152 1070,153 1045,155 C1032,154 1024,149 1021,143 Z"/></clipPath>
<path d="M1196,134 C1203,125 1222,121 1236,127 C1248,136 1249,160 1243,172 C1236,181 1219,182 1209,175 C1201,168 1197,160 1196,151 Z" fill="#9cbfae"/>
<path d="M1160,125 C1159,108 1172,100 1182,104 C1190,110 1189,121 1187,130 Z" fill="#9cbfae"/>
<path d="M1134,151 C1135,165 1142,177 1155,178 C1166,176 1168,165 1166,151 Z" fill="#a5c6b6"/>
<path d="M1120,152 L1132,152 L1126,159 Z" fill="#a5c6b6"/>
<path d="M1059,146 L1064,149 L1057,172 L1051,170 Z" fill="#a5c6b6"/>
<path d="M1021,143 C1035,132 1060,122 1103,118 C1140,116 1165,121 1185,128 C1192,131 1196,133 1199,134 L1199,151 C1180,151 1160,152 1130,152 C1100,152 1070,153 1045,155 C1032,154 1024,149 1021,143 Z" fill="url(#b2)"/>
<g clip-path="url(#c2)">
<ellipse cx="1062.6" cy="128.0" rx="1.8" ry="1.3" fill="#cdb7b2" opacity="0.4"/>
<ellipse cx="1072.5" cy="128.8" rx="1.8" ry="1.3" fill="#cdb7b2" opacity="0.4"/>
<ellipse cx="1081.2" cy="128.7" rx="1.8" ry="1.3" fill="#cdb7b2" opacity="0.4"/>
<ellipse cx="1086.6" cy="126.9" rx="1.8" ry="1.3" fill="#cdb7b2" opacity="0.4"/>
<ellipse cx="1100.2" cy="127.6" rx="1.8" ry="1.3" fill="#cdb7b2" opacity="0.4"/>
<ellipse cx="1109.0" cy="125.5" rx="1.8" ry="1.3" fill="#cdb7b2" opacity="0.4"/>
<ellipse cx="1115.8" cy="126.0" rx="1.8" ry="1.3" fill="#cdb7b2" opacity="0.4"/>
<ellipse cx="1125.2" cy="127.3" rx="1.8" ry="1.3" fill="#cdb7b2" opacity="0.4"/>
<ellipse cx="1131.6" cy="125.9" rx="1.8" ry="1.3" fill="#cdb7b2" opacity="0.4"/>
<ellipse cx="1141.9" cy="128.7" rx="1.8" ry="1.3" fill="#cdb7b2" opacity="0.4"/>
<ellipse cx="1153.3" cy="125.6" rx="1.8" ry="1.3" fill="#cdb7b2" opacity="0.4"/>
<ellipse cx="1162.5" cy="125.6" rx="1.8" ry="1.3" fill="#cdb7b2" opacity="0.4"/>
<ellipse cx="1170.6" cy="125.5" rx="1.8" ry="1.3" fill="#cdb7b2" opacity="0.4"/>
<ellipse cx="1176.5" cy="128.5" rx="1.8" ry="1.3" fill="#cdb7b2" opacity="0.4"/>
<ellipse cx="1065.0" cy="132.9" rx="1.8" ry="1.3" fill="#cdb7b2" opacity="0.4"/>
<ellipse cx="1077.9" cy="135.5" rx="1.8" ry="1.3" fill="#cdb7b2" opacity="0.4"/>
<ellipse cx="1083.4" cy="135.8" rx="1.8" ry="1.3" fill="#cdb7b2" opacity="0.4"/>
<ellipse cx="1093.7" cy="134.7" rx="1.8" ry="1.3" fill="#cdb7b2" opacity="0.4"/>
<ellipse cx="1101.0" cy="135.8" rx="1.8" ry="1.3" fill="#cdb7b2" opacity="0.4"/>
<ellipse cx="1112.5" cy="135.9" rx="1.8" ry="1.3" fill="#cdb7b2" opacity="0.4"/>
<ellipse cx="1122.5" cy="133.2" rx="1.8" ry="1.3" fill="#cdb7b2" opacity="0.4"/>
<ellipse cx="1128.8" cy="132.7" rx="1.8" ry="1.3" fill="#cdb7b2" opacity="0.4"/>
<ellipse cx="1136.7" cy="132.3" rx="1.8" ry="1.3" fill="#cdb7b2" opacity="0.4"/>
<ellipse cx="1146.5" cy="134.4" rx="1.8" ry="1.3" fill="#cdb7b2" opacity="0.4"/>
<ellipse cx="1154.0" cy="134.7" rx="1.8" ry="1.3" fill="#cdb7b2" opacity="0.4"/>
<ellipse cx="1164.7" cy="133.2" rx="1.8" ry="1.3" fill="#cdb7b2" opacity="0.4"/>
<ellipse cx="1176.1" cy="133.9" rx="1.8" ry="1.3" fill="#cdb7b2" opacity="0.4"/>
<ellipse cx="1182.6" cy="133.9" rx="1.8" ry="1.3" fill="#cdb7b2" opacity="0.4"/>
<ellipse cx="1063.0" cy="139.2" rx="1.8" ry="1.3" fill="#cdb7b2" opacity="0.4"/>
<ellipse cx="1073.4" cy="139.1" rx="1.8" ry="1.3" fill="#cdb7b2" opacity="0.4"/>
<ellipse cx="1081.2" cy="142.4" rx="1.8" ry="1.3" fill="#cdb7b2" opacity="0.4"/>
<ellipse cx="1086.6" cy="142.2" rx="1.8" ry="1.3" fill="#cdb7b2" opacity="0.4"/>
<ellipse cx="1097.3" cy="141.3" rx="1.8" ry="1.3" fill="#cdb7b2" opacity="0.4"/>
<ellipse cx="1104.5" cy="139.2" rx="1.8" ry="1.3" fill="#cdb7b2" opacity="0.4"/>
<ellipse cx="1114.4" cy="142.8" rx="1.8" ry="1.3" fill="#cdb7b2" opacity="0.4"/>
<ellipse cx="1123.5" cy="142.0" rx="1.8" ry="1.3" fill="#cdb7b2" opacity="0.4"/>
<ellipse cx="1136.1" cy="142.8" rx="1.8" ry="1.3" fill="#cdb7b2" opacity="0.4"/>
<ellipse cx="1142.2" cy="140.4" rx="1.8" ry="1.3" fill="#cdb7b2" opacity="0.4"/>
<ellipse cx="1152.1" cy="142.1" rx="1.8" ry="1.3" fill="#cdb7b2" opacity="0.4"/>
<ellipse cx="1159.0" cy="142.0" rx="1.8" ry="1.3" fill="#cdb7b2" opacity="0.4"/>
<ellipse cx="1171.5" cy="142.4" rx="1.8" ry="1.3" fill="#cdb7b2" opacity="0.4"/>
<ellipse cx="1176.7" cy="142.8" rx="1.8" ry="1.3" fill="#cdb7b2" opacity="0.4"/>
</g>
<circle cx="1205.3" cy="139.5" r="5" fill="#e0dcc0"/><circle cx="1205.3" cy="139.5" r="3.2" fill="#1d1410"/><circle cx="1068" cy="134.8" r="4.3" fill="#1d1410"/><circle cx="1031.5" cy="142.3" r="3" fill="#1d1410"/>
<text x="19.5" y="1160.3" font-size="35" fill="#222">(e)</text>
<line x1="102.80" y1="1525.5" x2="102.80" y2="1531.5" stroke="#000" stroke-width="2"/>
<text x="102.8" y="1549.4" font-size="14.6" fill="#333" text-anchor="middle">-1</text>
<line x1="96.8" y1="1525.50" x2="102.8" y2="1525.50" stroke="#000" stroke-width="2"/>
<text x="89" y="1531.0" font-size="14.6" fill="#333" text-anchor="end">-1</text>
<line x1="200.05" y1="1525.5" x2="200.05" y2="1531.5" stroke="#000" stroke-width="2"/>
<text x="200.05" y="1549.4" font-size="14.6" fill="#333" text-anchor="middle">-0.5</text>
<line x1="96.8" y1="1469.00" x2="102.8" y2="1469.00" stroke="#000" stroke-width="2"/>
<text x="89" y="1474.5" font-size="14.6" fill="#333" text-anchor="end">-0.5</text>
<line x1="297.30" y1="1525.5" x2="297.30" y2="1531.5" stroke="#000" stroke-width="2"/>
<text x="297.3" y="1549.4" font-size="14.6" fill="#333" text-anchor="middle">0</text>
<line x1="96.8" y1="1412.50" x2="102.8" y2="1412.50" stroke="#000" stroke-width="2"/>
<text x="89" y="1418.0" font-size="14.6" fill="#333" text-anchor="end">0</text>
<line x1="394.55" y1="1525.5" x2="394.55" y2="1531.5" stroke="#000" stroke-width="2"/>
<text x="394.55" y="1549.4" font-size="14.6" fill="#333" text-anchor="middle">0.5</text>
<line x1="96.8" y1="1356.00" x2="102.8" y2="1356.00" stroke="#000" stroke-width="2"/>
<text x="89" y="1361.5" font-size="14.6" fill="#333" text-anchor="end">0.5</text>
<line x1="491.80" y1="1525.5" x2="491.80" y2="1531.5" stroke="#000" stroke-width="2"/>
<text x="491.8" y="1549.4" font-size="14.6" fill="#333" text-anchor="middle">1</text>
<line x1="96.8" y1="1299.50" x2="102.8" y2="1299.50" stroke="#000" stroke-width="2"/>
<text x="89" y="1305.0" font-size="14.6" fill="#333" text-anchor="end">1</text>
<line x1="589.05" y1="1525.5" x2="589.05" y2="1531.5" stroke="#000" stroke-width="2"/>
<text x="589.05" y="1549.4" font-size="14.6" fill="#333" text-anchor="middle">1.5</text>
<line x1="96.8" y1="1243.00" x2="102.8" y2="1243.00" stroke="#000" stroke-width="2"/>
<text x="89" y="1248.5" font-size="14.6" fill="#333" text-anchor="end">1.5</text>
<line x1="686.30" y1="1525.5" x2="686.30" y2="1531.5" stroke="#000" stroke-width="2"/>
<text x="686.3" y="1549.4" font-size="14.6" fill="#333" text-anchor="middle">2</text>
<line x1="96.8" y1="1186.50" x2="102.8" y2="1186.50" stroke="#000" stroke-width="2"/>
<text x="89" y="1192.0" font-size="14.6" fill="#333" text-anchor="end">2</text>
<rect x="102.8" y="1186.5" width="583.50" height="339.00" fill="none" stroke="#000" stroke-width="2.2"/>
<text x="394.2" y="1572.6" font-size="15.4" fill="#1a1a1a" text-anchor="middle" font-weight="bold">Axis 1 (7.23%)</text>
<text transform="translate(55.5,1355.7) rotate(-90)" font-size="15.4" font-weight="bold" fill="#1a1a1a" text-anchor="middle">Axis 2 (4.03%)</text>
<path d="M157.7,1227.6 L166.9,1245.2 L148.4,1245.2 Z" fill="#4fb0e0" stroke="#000" stroke-width="1.5" stroke-linejoin="round" fill-opacity="1"/>
<path d="M159.0,1253.1 L168.2,1270.7 L149.8,1270.7 Z" fill="#1f7fca" stroke="#000" stroke-width="1.5" stroke-linejoin="round" fill-opacity="1"/>
<path d="M167.0,1247.1 L176.2,1264.7 L157.8,1264.7 Z" fill="#3a98d8" stroke="#000" stroke-width="1.5" stroke-linejoin="round" fill-opacity="1"/>
<path d="M172.0,1248.1 L181.2,1265.7 L162.8,1265.7 Z" fill="#0b63b5" stroke="#000" stroke-width="1.5" stroke-linejoin="round" fill-opacity="1"/>
<path d="M194.0,1256.1 L203.2,1273.7 L184.8,1273.7 Z" fill="#4fb0e0" stroke="#000" stroke-width="1.5" stroke-linejoin="round" fill-opacity="1"/>
<path d="M199.0,1271.1 L208.2,1288.7 L189.8,1288.7 Z" fill="#4fb0e0" stroke="#000" stroke-width="1.5" stroke-linejoin="round" fill-opacity="1"/>
<path d="M188.0,1267.1 L197.2,1284.7 L178.8,1284.7 Z" fill="#2a8fd0" stroke="#000" stroke-width="1.5" stroke-linejoin="round" fill-opacity="1"/>
<path d="M200.3,1259.3 L209.6,1268.6 L200.3,1277.9 L191.0,1268.6 Z" fill="#3aa2dc" stroke="#000" stroke-width="1.5" fill-opacity="1"/>
<path d="M171.9,1257.0 L181.2,1266.3 L171.9,1275.6 L162.6,1266.3 Z" fill="#0b63b5" stroke="#000" stroke-width="1.5" fill-opacity="1"/>
<path d="M166.0,1265.7 L175.3,1275.0 L166.0,1284.3 L156.7,1275.0 Z" fill="#0b63b5" stroke="#000" stroke-width="1.5" fill-opacity="1"/>
<path d="M178.6,1266.7 L187.9,1276.0 L178.6,1285.3 L169.3,1276.0 Z" fill="#0b63b5" stroke="#000" stroke-width="1.5" fill-opacity="1"/>
<path d="M186.0,1260.7 L195.3,1270.0 L186.0,1279.3 L176.7,1270.0 Z" fill="#0d5fae" stroke="#000" stroke-width="1.5" fill-opacity="1"/>
<path d="M160.6,1272.0 L169.9,1281.3 L160.6,1290.6 L151.3,1281.3 Z" fill="#0b63b5" stroke="#000" stroke-width="1.5" fill-opacity="1"/>
<path d="M158.0,1280.7 L167.3,1290.0 L158.0,1299.3 L148.7,1290.0 Z" fill="#1a74c2" stroke="#000" stroke-width="1.5" fill-opacity="1"/>
<path d="M183.0,1275.7 L192.3,1285.0 L183.0,1294.3 L173.7,1285.0 Z" fill="#0b63b5" stroke="#000" stroke-width="1.5" fill-opacity="1"/>
<path d="M172.6,1276.5 L181.9,1285.8 L172.6,1295.1 L163.3,1285.8 Z" fill="#0b63b5" stroke="#000" stroke-width="1.5" fill-opacity="1"/>
<path d="M193.0,1277.7 L202.3,1287.0 L193.0,1296.3 L183.7,1287.0 Z" fill="#1d70bf" stroke="#000" stroke-width="1.5" fill-opacity="1"/>
<path d="M165.0,1286.7 L174.3,1296.0 L165.0,1305.3 L155.7,1296.0 Z" fill="#0b63b5" stroke="#000" stroke-width="1.5" fill-opacity="1"/>
<path d="M180.0,1284.7 L189.3,1294.0 L180.0,1303.3 L170.7,1294.0 Z" fill="#0b63b5" stroke="#000" stroke-width="1.5" fill-opacity="1"/>
<path d="M188.0,1287.7 L197.3,1297.0 L188.0,1306.3 L178.7,1297.0 Z" fill="#1f7cc8" stroke="#000" stroke-width="1.5" fill-opacity="1"/>
<path d="M158.0,1291.7 L167.3,1301.0 L158.0,1310.3 L148.7,1301.0 Z" fill="#2080c8" stroke="#000" stroke-width="1.5" fill-opacity="1"/>
<path d="M174.1,1290.6 L183.4,1299.9 L174.1,1309.2 L164.8,1299.9 Z" fill="#0b63b5" stroke="#000" stroke-width="1.5" fill-opacity="1"/>
<path d="M168.0,1297.7 L177.3,1307.0 L168.0,1316.3 L158.7,1307.0 Z" fill="#0b63b5" stroke="#000" stroke-width="1.5" fill-opacity="1"/>
<path d="M182.0,1296.7 L191.3,1306.0 L182.0,1315.3 L172.7,1306.0 Z" fill="#3592d4" stroke="#000" stroke-width="1.5" fill-opacity="1"/>
<path d="M195.0,1296.6 L204.3,1305.9 L195.0,1315.2 L185.7,1305.9 Z" fill="#4fb0e0" stroke="#000" stroke-width="1.5" fill-opacity="1"/>
<path d="M162.9,1309.7 L172.2,1319.0 L162.9,1328.3 L153.6,1319.0 Z" fill="#4fb0e0" stroke="#000" stroke-width="1.5" fill-opacity="1"/>
<path d="M202.1,1310.4 L211.4,1319.7 L202.1,1329.0 L192.8,1319.7 Z" fill="#4fb0e0" stroke="#000" stroke-width="1.5" fill-opacity="1"/>
<path d="M176.0,1301.0 L184.0,1309.0 L176.0,1317.0 L168.0,1309.0 Z" fill="#0b63b5" stroke="#000" stroke-width="1.5" fill-opacity="1"/>
<path d="M186.0,1305.0 L193.0,1312.0 L186.0,1319.0 L179.0,1312.0 Z" fill="#1d70bf" stroke="#000" stroke-width="1.5" fill-opacity="1"/>
<circle cx="199.7" cy="1438.9" r="9.3" fill="#2ad4a0" stroke="#000" stroke-width="1.5" fill-opacity="1"/>
<circle cx="216.0" cy="1456.0" r="8.5" fill="#2ad4a0" stroke="#000" stroke-width="1.5" fill-opacity="1"/>
<circle cx="213.0" cy="1489.4" r="8.5" fill="#2ad4a0" stroke="#000" stroke-width="1.5" fill-opacity="1"/>
<rect x="201.8" y="1492.0" width="19" height="19" fill="#2ad4a0" stroke="#000" stroke-width="1.5" fill-opacity="1"/>
<circle cx="186.0" cy="1466.0" r="9" fill="#00a341" stroke="#000" stroke-width="1.5" fill-opacity="1"/>
<circle cx="192.0" cy="1458.0" r="9" fill="#00a341" stroke="#000" stroke-width="1.5" fill-opacity="1"/>
<circle cx="199.0" cy="1462.0" r="9" fill="#00a341" stroke="#000" stroke-width="1.5" fill-opacity="1"/>
<circle cx="213.5" cy="1451.5" r="9" fill="#00a341" stroke="#000" stroke-width="1.5" fill-opacity="1"/>
<circle cx="204.7" cy="1454.1" r="9" fill="#00a341" stroke="#000" stroke-width="1.5" fill-opacity="1"/>
<circle cx="184.5" cy="1462.9" r="9" fill="#00a341" stroke="#000" stroke-width="1.5" fill-opacity="1"/>
<circle cx="196.0" cy="1470.0" r="9" fill="#00a341" stroke="#000" stroke-width="1.5" fill-opacity="1"/>
<circle cx="210.0" cy="1463.0" r="9" fill="#00a341" stroke="#000" stroke-width="1.5" fill-opacity="1"/>
<circle cx="214.2" cy="1471.7" r="9" fill="#00a341" stroke="#000" stroke-width="1.5" fill-opacity="1"/>
<circle cx="205.3" cy="1473.6" r="9" fill="#00a341" stroke="#000" stroke-width="1.5" fill-opacity="1"/>
<circle cx="212.0" cy="1482.0" r="9" fill="#00a341" stroke="#000" stroke-width="1.5" fill-opacity="1"/>
<circle cx="198.0" cy="1483.0" r="9" fill="#00a341" stroke="#000" stroke-width="1.5" fill-opacity="1"/>
<circle cx="186.0" cy="1485.0" r="9" fill="#00a341" stroke="#000" stroke-width="1.5" fill-opacity="1"/>
<circle cx="188.9" cy="1475.5" r="9" fill="#00a341" stroke="#000" stroke-width="1.5" fill-opacity="1"/>
<circle cx="208.0" cy="1490.0" r="9" fill="#00a341" stroke="#000" stroke-width="1.5" fill-opacity="1"/>
<circle cx="202.8" cy="1492.6" r="9" fill="#00a341" stroke="#000" stroke-width="1.5" fill-opacity="1"/>
<rect x="247.2" y="1463.5" width="19.5" height="19.5" fill="#f97b74" stroke="#000" stroke-width="1.5" fill-opacity="1"/>
<circle cx="309.7" cy="1440.1" r="9.2" fill="#f97b74" stroke="#000" stroke-width="1.5" fill-opacity="1"/>
<circle cx="330.3" cy="1440.5" r="9.2" fill="#f97b74" stroke="#000" stroke-width="1.5" fill-opacity="1"/>
<circle cx="326.4" cy="1445.0" r="9.2" fill="#f97b74" stroke="#000" stroke-width="1.5" fill-opacity="1"/>
<rect x="368.2" y="1434.5" width="18.5" height="18.5" fill="#a066a2" stroke="#000" stroke-width="1.5" fill-opacity="0.85"/>
<rect x="379.4" y="1457.5" width="18.5" height="18.5" fill="#a066a2" stroke="#000" stroke-width="1.5" fill-opacity="0.85"/>
<rect x="375.1" y="1455.2" width="18.5" height="18.5" fill="#a066a2" stroke="#000" stroke-width="1.5" fill-opacity="0.85"/>
<rect x="374.1" y="1474.2" width="18.5" height="18.5" fill="#a066a2" stroke="#000" stroke-width="1.5" fill-opacity="0.85"/>
<circle cx="365.6" cy="1459.2" r="8.9" fill="#a066a2" stroke="#000" stroke-width="1.5" fill-opacity="0.95"/>
<circle cx="388.1" cy="1450.1" r="9" fill="#8a4a8e" stroke="#000" stroke-width="1.5" fill-opacity="0.92"/>
<rect x="560.0" y="1446.0" width="20" height="20" fill="#ff1020" stroke="#000" stroke-width="1.5" fill-opacity="1"/>
<rect x="563.0" y="1447.0" width="20" height="20" fill="#ff1020" stroke="#000" stroke-width="1.5" fill-opacity="1"/>
<circle cx="608.5" cy="1398.6" r="9" fill="#f97b74" stroke="#000" stroke-width="1.5" fill-opacity="1"/>
<circle cx="604.3" cy="1388.0" r="9.3" fill="#ff1424" stroke="#000" stroke-width="1.5" fill-opacity="1"/>
<circle cx="614.2" cy="1386.5" r="9.3" fill="#ff1424" stroke="#000" stroke-width="1.5" fill-opacity="1"/>
<circle cx="618.3" cy="1385.0" r="9.3" fill="#ff1424" stroke="#000" stroke-width="1.5" fill-opacity="1"/>
<line x1="297.6" y1="1401.8" x2="321.8" y2="1435.5" stroke="#666" stroke-width="1.5" stroke-dasharray="4,3"/>
<line x1="368.2" y1="1405.8" x2="334.9" y2="1436.1" stroke="#666" stroke-width="1.5" stroke-dasharray="4,3"/>
<line x1="426.7" y1="1414.7" x2="395.5" y2="1442.5" stroke="#666" stroke-width="1.5" stroke-dasharray="4,3"/>
<line x1="421.7" y1="1434" x2="398.5" y2="1453.6" stroke="#666" stroke-width="1.5" stroke-dasharray="4,3"/>
<line x1="351" y1="1490" x2="374.3" y2="1470.8" stroke="#666" stroke-width="1.5" stroke-dasharray="4,3"/>
<text x="274.8" y="1400.8" font-size="14" fill="#333">GUA20</text>
<text x="354" y="1401.8" font-size="14" fill="#333">GUA17</text>
<text x="427.3" y="1416" font-size="14" fill="#333">GUA09</text>
<text x="357" y="1431.5" font-size="14" fill="#333">FUN13</text>
<text x="424.7" y="1434.9" font-size="14" fill="#333">FUN43</text>
<text x="254.6" y="1435.5" font-size="14" fill="#333">GUA24</text>
<text x="309.7" y="1470.4" font-size="14" fill="#333">GUA62</text>
<text x="401.1" y="1478.9" font-size="14" fill="#333">FUN11</text>
<text x="237" y="1498.6" font-size="14" fill="#333">FUN41</text>
<text x="307" y="1499" font-size="14" fill="#333">FUN47</text>
<text x="364.2" y="1505.7" font-size="14" fill="#333">FUN08</text>
<rect x="541.8" y="1198.5" width="10" height="10" fill="#2ad4a0" stroke="#000" stroke-width="1.6" fill-opacity="1"/>
<text x="554.6" y="1208.4" font-size="17.3" fill="#2a2a2a">FUN</text>
<rect x="620.6" y="1198.5" width="10" height="10" fill="#f97b74" stroke="#000" stroke-width="1.6" fill-opacity="1"/>
<text x="633.6" y="1208.4" font-size="17.3" fill="#2a2a2a">FUN*</text>
<circle cx="546.7" cy="1233.6" r="5.2" fill="#2ad4a0" stroke="#000" stroke-width="1.6" fill-opacity="1"/>
<text x="554.6" y="1239.4" font-size="17.3" fill="#2a2a2a">GUA</text>
<circle cx="625.6" cy="1233.6" r="5.2" fill="#f97b74" stroke="#000" stroke-width="1.6" fill-opacity="1"/>
<text x="633.6" y="1239.4" font-size="17.3" fill="#2a2a2a">GUA*</text>
<path d="M546.7,1259.6 L552.3,1269.2 L541.1,1269.2 Z" fill="#4fb0e0" stroke="#000" stroke-width="1.6" stroke-linejoin="round"/>
<text x="554.6" y="1269.5" font-size="17.3" fill="#2a2a2a">SFR</text>
<path d="M625.7,1258.8 L631.0,1264.1 L625.7,1269.4 L620.4,1264.1 Z" fill="#4fb0e0" stroke="#000" stroke-width="1.5" fill-opacity="1"/>
<text x="633.6" y="1269.5" font-size="17.3" fill="#2a2a2a">FLO</text>
<text x="707" y="1163.3" font-size="35" fill="#222" font-style="italic">(f)</text>
<rect x="836.2" y="1186.7" width="423.20" height="351.50" fill="none" stroke="#333" stroke-width="1.4"/>
<line x1="829" y1="1538.20" x2="836.2" y2="1538.20" stroke="#333" stroke-width="1.4"/>
<text x="826.5" y="1543.6" font-size="15.2" fill="#333" text-anchor="end">0.0</text>
<line x1="829" y1="1487.99" x2="836.2" y2="1487.99" stroke="#333" stroke-width="1.4"/>
<text x="826.5" y="1493.39" font-size="15.2" fill="#333" text-anchor="end">0.1</text>
<line x1="829" y1="1437.77" x2="836.2" y2="1437.77" stroke="#333" stroke-width="1.4"/>
<text x="826.5" y="1443.17" font-size="15.2" fill="#333" text-anchor="end">0.2</text>
<line x1="829" y1="1387.56" x2="836.2" y2="1387.56" stroke="#333" stroke-width="1.4"/>
<text x="826.5" y="1392.96" font-size="15.2" fill="#333" text-anchor="end">0.3</text>
<line x1="829" y1="1337.34" x2="836.2" y2="1337.34" stroke="#333" stroke-width="1.4"/>
<text x="826.5" y="1342.74" font-size="15.2" fill="#333" text-anchor="end">0.4</text>
<line x1="829" y1="1287.13" x2="836.2" y2="1287.13" stroke="#333" stroke-width="1.4"/>
<text x="826.5" y="1292.53" font-size="15.2" fill="#333" text-anchor="end">0.5</text>
<line x1="829" y1="1236.91" x2="836.2" y2="1236.91" stroke="#333" stroke-width="1.4"/>
<text x="826.5" y="1242.31" font-size="15.2" fill="#333" text-anchor="end">0.6</text>
<line x1="829" y1="1186.70" x2="836.2" y2="1186.70" stroke="#333" stroke-width="1.4"/>
<text x="826.5" y="1192.1" font-size="15.2" fill="#333" text-anchor="end">0.7</text>
<text transform="translate(781.2,1362.7) rotate(-90)" font-size="17.7" fill="#333" text-anchor="middle">Proportion of heterozygous sites</text>
<text x="937.5" y="1577" font-size="14.8" fill="#222" text-anchor="middle" font-style="italic">K. ocellatus</text>
<text x="1047.5" y="1577" font-size="14.8" fill="#222" text-anchor="middle">F1s</text>
<text x="1150.6" y="1577" font-size="14.8" fill="#222" text-anchor="middle" font-style="italic">K. hermaphroditus</text>
<line x1="1047.5" y1="1227" x2="1047.5" y2="1230" stroke="#000" stroke-width="2"/><line x1="1036" y1="1227" x2="1058" y2="1227" stroke="#000" stroke-width="2"/>
<line x1="1047.5" y1="1295" x2="1047.5" y2="1299.3" stroke="#000" stroke-width="2"/><line x1="1037.4" y1="1299.3" x2="1057.5" y2="1299.3" stroke="#000" stroke-width="2"/>
<rect x="1021.2" y="1230.8" width="52.8" height="63.4" fill="#be1a92" stroke="#000" stroke-width="2"/>
<line x1="1021.2" y1="1260.1" x2="1074" y2="1260.1" stroke="#000" stroke-width="2"/>
<circle cx="1040.7" cy="1226.6" r="3.3" fill="#be1a92" stroke="#000" stroke-width="1.3" fill-opacity="1"/>
<circle cx="1038.9" cy="1230.9" r="3.3" fill="#be1a92" stroke="#000" stroke-width="1.3" fill-opacity="1"/>
<circle cx="1048.6" cy="1234.3" r="3.3" fill="#be1a92" stroke="#000" stroke-width="1.3" fill-opacity="1"/>
<circle cx="1039.2" cy="1282.1" r="3.3" fill="#be1a92" stroke="#000" stroke-width="1.3" fill-opacity="1"/>
<circle cx="1055.7" cy="1288.8" r="3.3" fill="#be1a92" stroke="#000" stroke-width="1.3" fill-opacity="1"/>
<line x1="941.9" y1="1467.1" x2="941.9" y2="1496.5" stroke="#000" stroke-width="2"/><line x1="930.5" y1="1467.1" x2="951.8" y2="1467.1" stroke="#000" stroke-width="2"/>
<line x1="941.9" y1="1506.5" x2="941.9" y2="1512.5" stroke="#000" stroke-width="2"/><line x1="932.4" y1="1512.5" x2="950.2" y2="1512.5" stroke="#000" stroke-width="2"/>
<rect x="915.6" y="1496.6" width="52" height="10" fill="#00a846" stroke="#000" stroke-width="2"/>
<line x1="915.6" y1="1503.9" x2="967.6" y2="1503.9" stroke="#000" stroke-width="2"/>
<circle cx="930.5" cy="1467.1" r="3.1" fill="#00a846" stroke="#000" stroke-width="1.2" fill-opacity="1"/>
<circle cx="934.3" cy="1478.2" r="3.1" fill="#00a846" stroke="#000" stroke-width="1.2" fill-opacity="1"/>
<circle cx="944.7" cy="1491.0" r="3.1" fill="#00a846" stroke="#000" stroke-width="1.2" fill-opacity="1"/>
<circle cx="953.9" cy="1493.4" r="3.1" fill="#00a846" stroke="#000" stroke-width="1.2" fill-opacity="1"/>
<circle cx="929.3" cy="1495.2" r="3.1" fill="#00a846" stroke="#000" stroke-width="1.2" fill-opacity="1"/>
<circle cx="934.8" cy="1494.0" r="3.1" fill="#00a846" stroke="#000" stroke-width="1.2" fill-opacity="1"/>
<circle cx="933.0" cy="1500.4" r="3.1" fill="#00a846" stroke="#000" stroke-width="1.2" fill-opacity="1"/>
<circle cx="935.0" cy="1505.0" r="3.1" fill="#00a846" stroke="#000" stroke-width="1.2" fill-opacity="1"/>
<circle cx="940.0" cy="1503.0" r="3.1" fill="#00a846" stroke="#000" stroke-width="1.2" fill-opacity="1"/>
<circle cx="946.0" cy="1500.5" r="3.1" fill="#00a846" stroke="#000" stroke-width="1.2" fill-opacity="1"/>
<circle cx="950.4" cy="1499.5" r="3.1" fill="#00a846" stroke="#000" stroke-width="1.2" fill-opacity="1"/>
<circle cx="947.0" cy="1505.5" r="3.1" fill="#00a846" stroke="#000" stroke-width="1.2" fill-opacity="1"/>
<circle cx="953.5" cy="1506.0" r="3.1" fill="#00a846" stroke="#000" stroke-width="1.2" fill-opacity="1"/>
<circle cx="950.0" cy="1509.0" r="3.1" fill="#00a846" stroke="#000" stroke-width="1.2" fill-opacity="1"/>
<circle cx="930.0" cy="1508.2" r="3.1" fill="#00a846" stroke="#000" stroke-width="1.2" fill-opacity="1"/>
<circle cx="940.0" cy="1509.0" r="3.1" fill="#00a846" stroke="#000" stroke-width="1.2" fill-opacity="1"/>
<circle cx="937.8" cy="1496.5" r="3.1" fill="#00a846" stroke="#000" stroke-width="1.2" fill-opacity="1"/>
<circle cx="943.7" cy="1495.8" r="3.1" fill="#00a846" stroke="#000" stroke-width="1.2" fill-opacity="1"/>
<circle cx="953.7" cy="1512.5" r="3.1" fill="#00a846" stroke="#000" stroke-width="1.2" fill-opacity="1"/>
<circle cx="927.7" cy="1500.2" r="3.1" fill="#00a846" stroke="#000" stroke-width="1.2" fill-opacity="1"/>
<circle cx="948.0" cy="1494.5" r="3.1" fill="#00a846" stroke="#000" stroke-width="1.2" fill-opacity="1"/>
<circle cx="929.0" cy="1504.0" r="3.1" fill="#00a846" stroke="#000" stroke-width="1.2" fill-opacity="1"/>
<line x1="1126.3" y1="1522.4" x2="1180.6" y2="1522.4" stroke="#000" stroke-width="3"/>
<line x1="1152" y1="1514.2" x2="1152" y2="1522.5" stroke="#000" stroke-width="1.6"/><line x1="1143.1" y1="1514.2" x2="1161.4" y2="1514.2" stroke="#000" stroke-width="2"/>
<circle cx="1142.8" cy="1522.7" r="3" fill="#ff0a0a" stroke="#000" stroke-width="1.2" fill-opacity="1"/>
<circle cx="1147.0" cy="1523.3" r="3" fill="#ff0a0a" stroke="#000" stroke-width="1.2" fill-opacity="1"/>
<circle cx="1151.2" cy="1522.7" r="3" fill="#ff0a0a" stroke="#000" stroke-width="1.2" fill-opacity="1"/>
<circle cx="1157.0" cy="1523.2" r="3" fill="#ff0a0a" stroke="#000" stroke-width="1.2" fill-opacity="1"/>
<circle cx="1161.4" cy="1522.5" r="3" fill="#ff0a0a" stroke="#000" stroke-width="1.2" fill-opacity="1"/>
<circle cx="1154.3" cy="1518.0" r="3" fill="#ff0a0a" stroke="#000" stroke-width="1.2" fill-opacity="1"/>
<circle cx="1162.7" cy="1514.4" r="3" fill="#ff0a0a" stroke="#000" stroke-width="1.2" fill-opacity="1"/>
<circle cx="1150.5" cy="1525.0" r="3" fill="#ff0a0a" stroke="#000" stroke-width="1.2" fill-opacity="1"/>
</svg></body></html>
